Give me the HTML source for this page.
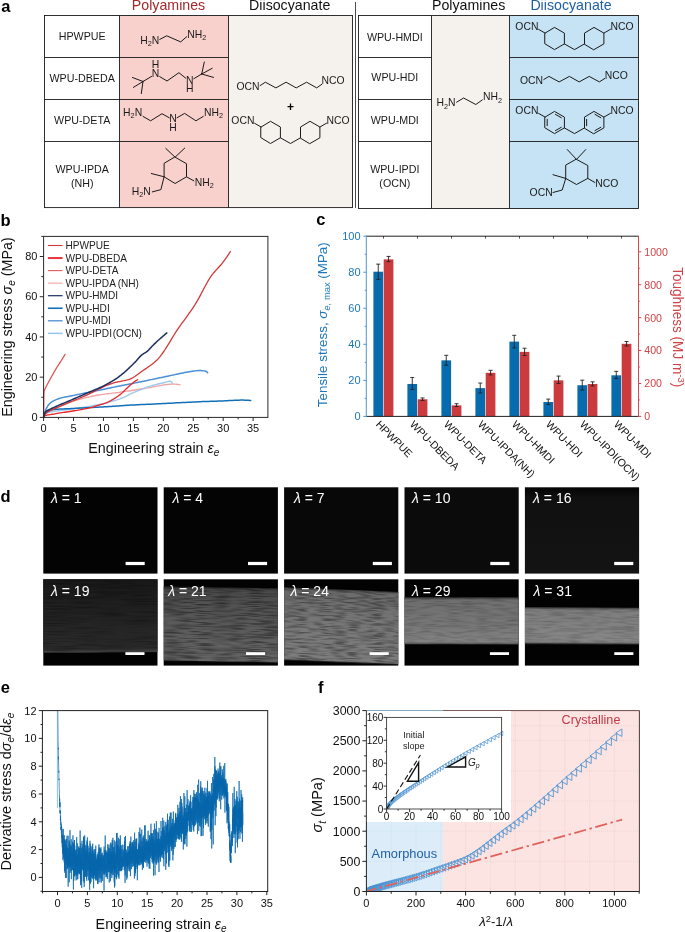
<!DOCTYPE html>
<html><head><meta charset="utf-8"><title>Figure</title>
<style>html,body{margin:0;padding:0;background:#fff}svg{display:block;will-change:transform}svg text{font-family:"Liberation Sans", sans-serif;}</style></head>
<body><svg width="685" height="932" viewBox="0 0 685 932" font-family='"Liberation Sans", sans-serif'>
<rect width="685" height="932" fill="#fff"/>
<g id="panel_a">
<rect x="119.5" y="15.5" width="109" height="192.1" fill="#f8d0cc" stroke="none" stroke-width="1" />
<rect x="228.5" y="15.5" width="124" height="192.1" fill="#f5f2ed" stroke="none" stroke-width="1" />
<rect x="431.5" y="15.5" width="78" height="193" fill="#f5f2ed" stroke="none" stroke-width="1" />
<rect x="509.5" y="15.5" width="129" height="193" fill="#c6e3f5" stroke="none" stroke-width="1" />
<rect x="44.5" y="15.5" width="308" height="192.1" fill="none" stroke="#1a1a1a" stroke-width="0.9" />
<line x1="119.5" y1="15.5" x2="119.5" y2="207.6" stroke="#1a1a1a" stroke-width="0.9" />
<line x1="228.5" y1="15.5" x2="228.5" y2="207.6" stroke="#1a1a1a" stroke-width="0.9" />
<line x1="44.5" y1="57.5" x2="228.5" y2="57.5" stroke="#1a1a1a" stroke-width="0.9" />
<line x1="44.5" y1="99.5" x2="228.5" y2="99.5" stroke="#1a1a1a" stroke-width="0.9" />
<line x1="44.5" y1="141.5" x2="228.5" y2="141.5" stroke="#1a1a1a" stroke-width="0.9" />
<line x1="355.5" y1="2" x2="355.5" y2="207.9" stroke="#1a1a1a" stroke-width="0.8" />
<rect x="358.5" y="15.5" width="280" height="193" fill="none" stroke="#1a1a1a" stroke-width="0.9" />
<line x1="431.5" y1="15.5" x2="431.5" y2="208.5" stroke="#1a1a1a" stroke-width="0.9" />
<line x1="509.5" y1="15.5" x2="509.5" y2="208.5" stroke="#1a1a1a" stroke-width="0.9" />
<line x1="358.5" y1="57.5" x2="431.5" y2="57.5" stroke="#1a1a1a" stroke-width="0.9" />
<line x1="509.5" y1="57.5" x2="638.5" y2="57.5" stroke="#1a1a1a" stroke-width="0.9" />
<line x1="358.5" y1="99.5" x2="431.5" y2="99.5" stroke="#1a1a1a" stroke-width="0.9" />
<line x1="509.5" y1="99.5" x2="638.5" y2="99.5" stroke="#1a1a1a" stroke-width="0.9" />
<line x1="358.5" y1="141.5" x2="431.5" y2="141.5" stroke="#1a1a1a" stroke-width="0.9" />
<line x1="509.5" y1="141.5" x2="638.5" y2="141.5" stroke="#1a1a1a" stroke-width="0.9" />
<text x="168.5" y="10.3" font-size="14.2" text-anchor="middle" fill="#a3282c" >Polyamines</text>
<text x="289.7" y="10.3" font-size="14.2" text-anchor="middle" fill="#111" >Diisocyanate</text>
<text x="468.7" y="10.3" font-size="14.2" text-anchor="middle" fill="#111" >Polyamines</text>
<text x="571" y="10.3" font-size="14.2" text-anchor="middle" fill="#1f5fa5" >Diisocyanate</text>
<text x="1.2" y="11.8" font-size="16.5" text-anchor="start" fill="#000" font-weight="bold">a</text>
<text x="82.2" y="40.4" font-size="10.7" text-anchor="middle" fill="#1a1a1a" >HPWPUE</text>
<text x="82.2" y="81.8" font-size="10.7" text-anchor="middle" fill="#1a1a1a" >WPU-DBEDA</text>
<text x="82.2" y="124" font-size="10.7" text-anchor="middle" fill="#1a1a1a" >WPU-DETA</text>
<text x="82.2" y="173.3" font-size="10.7" text-anchor="middle" fill="#1a1a1a" >WPU-IPDA</text>
<text x="82.2" y="186.8" font-size="10.7" text-anchor="middle" fill="#1a1a1a" >(NH)</text>
<text x="394.8" y="40.9" font-size="10.7" text-anchor="middle" fill="#1a1a1a" >WPU-HMDI</text>
<text x="394.8" y="81.2" font-size="10.7" text-anchor="middle" fill="#1a1a1a" >WPU-HDI</text>
<text x="394.8" y="124" font-size="10.7" text-anchor="middle" fill="#1a1a1a" >WPU-MDI</text>
<text x="394.8" y="173.1" font-size="10.7" text-anchor="middle" fill="#1a1a1a" >WPU-IPDI</text>
<text x="394.8" y="187" font-size="10.7" text-anchor="middle" fill="#1a1a1a" >(OCN)</text>
<text x="140.2" y="43.6" font-size="10.4" text-anchor="start" fill="#1a1a1a" ><tspan dy="0" font-size="10.4">H</tspan><tspan dy="2.29" font-size="7.28">2</tspan><tspan dy="-2.29" font-size="10.4">N</tspan></text>
<polyline points="159.8,39.4 166.7,35.8 180.7,41.9 186.8,36.6" fill="none" stroke="#1a1a1a" stroke-width="1" stroke-linejoin="round" stroke-linecap="round"/>
<text x="187.2" y="37.5" font-size="10.4" text-anchor="start" fill="#1a1a1a" ><tspan dy="0" font-size="10.4">NH</tspan><tspan dy="2.29" font-size="7.28">2</tspan></text>
<text x="155.5" y="67.8" font-size="10.4" text-anchor="middle" fill="#1a1a1a" >H</text>
<text x="155.5" y="76.8" font-size="10.4" text-anchor="middle" fill="#1a1a1a" >N</text>
<line x1="143" y1="81.5" x2="132.5" y2="77.5" stroke="#1a1a1a" stroke-width="1" stroke-linecap="round"/>
<line x1="143" y1="81.5" x2="133.4" y2="87.4" stroke="#1a1a1a" stroke-width="1" stroke-linecap="round"/>
<line x1="143" y1="81.5" x2="141.3" y2="93.6" stroke="#1a1a1a" stroke-width="1" stroke-linecap="round"/>
<line x1="143" y1="81.5" x2="151.6" y2="76.4" stroke="#1a1a1a" stroke-width="1" stroke-linecap="round"/>
<polyline points="159.7,76.6 167,81 178.9,72.7 185.8,78.2" fill="none" stroke="#1a1a1a" stroke-width="1" stroke-linejoin="round" stroke-linecap="round"/>
<text x="189.7" y="83.7" font-size="10.4" text-anchor="middle" fill="#1a1a1a" >N</text>
<text x="189.7" y="92.2" font-size="10.4" text-anchor="middle" fill="#1a1a1a" >H</text>
<line x1="201.7" y1="74" x2="204.3" y2="62" stroke="#1a1a1a" stroke-width="1" stroke-linecap="round"/>
<line x1="201.7" y1="74" x2="212.2" y2="68.3" stroke="#1a1a1a" stroke-width="1" stroke-linecap="round"/>
<line x1="201.7" y1="74" x2="213.5" y2="77.4" stroke="#1a1a1a" stroke-width="1" stroke-linecap="round"/>
<line x1="201.7" y1="74" x2="193.8" y2="78.7" stroke="#1a1a1a" stroke-width="1" stroke-linecap="round"/>
<text x="123.1" y="116" font-size="10.4" text-anchor="start" fill="#1a1a1a" ><tspan dy="0" font-size="10.4">H</tspan><tspan dy="2.29" font-size="7.28">2</tspan><tspan dy="-2.29" font-size="10.4">N</tspan></text>
<polyline points="143,116.4 150.6,120.8 162,113.7 169.3,117.8" fill="none" stroke="#1a1a1a" stroke-width="1" stroke-linejoin="round" stroke-linecap="round"/>
<text x="173" y="122.3" font-size="10.4" text-anchor="middle" fill="#1a1a1a" >N</text>
<text x="173" y="131" font-size="10.4" text-anchor="middle" fill="#1a1a1a" >H</text>
<polyline points="177,117.8 184.6,113.4 195.9,120.8 203.3,116.4" fill="none" stroke="#1a1a1a" stroke-width="1" stroke-linejoin="round" stroke-linecap="round"/>
<text x="204" y="116" font-size="10.4" text-anchor="start" fill="#1a1a1a" ><tspan dy="0" font-size="10.4">NH</tspan><tspan dy="2.29" font-size="7.28">2</tspan></text>
<polygon points="175.1,157.2 186.5,163.7 186.5,176.8 175.1,183.5 164.1,176.8 164.1,163.7" fill="none" stroke="#1a1a1a" stroke-width="1" stroke-linejoin="round" stroke-linecap="round"/>
<polyline points="165.8,148.4 175.1,157.2 184.7,148.1" fill="none" stroke="#1a1a1a" stroke-width="1" stroke-linejoin="round" stroke-linecap="round"/>
<polyline points="151.3,173.5 164.1,176.8" fill="none" stroke="#1a1a1a" stroke-width="1" stroke-linejoin="round" stroke-linecap="round"/>
<polyline points="164.1,176.8 160.9,189.6 152.3,191.9" fill="none" stroke="#1a1a1a" stroke-width="1" stroke-linejoin="round" stroke-linecap="round"/>
<text x="131.8" y="194.9" font-size="10.4" text-anchor="start" fill="#1a1a1a" ><tspan dy="0" font-size="10.4">H</tspan><tspan dy="2.29" font-size="7.28">2</tspan><tspan dy="-2.29" font-size="10.4">N</tspan></text>
<polyline points="186.5,176.8 193.8,180.8" fill="none" stroke="#1a1a1a" stroke-width="1" stroke-linejoin="round" stroke-linecap="round"/>
<text x="194.7" y="185.6" font-size="10.4" text-anchor="start" fill="#1a1a1a" ><tspan dy="0" font-size="10.4">NH</tspan><tspan dy="2.29" font-size="7.28">2</tspan></text>
<text x="236.4" y="89.8" font-size="10.4" text-anchor="start" fill="#1a1a1a" >OCN</text>
<polyline points="260.1,85.6 265.4,82.2 275.9,87.9 286.1,82.2 296.2,87.9 306.6,82.2 316.7,87.9 321.8,84.3" fill="none" stroke="#1a1a1a" stroke-width="1" stroke-linejoin="round" stroke-linecap="round"/>
<text x="321.4" y="84.3" font-size="10.4" text-anchor="start" fill="#1a1a1a" >NCO</text>
<text x="290.5" y="110.6" font-size="12" text-anchor="middle" fill="#000" font-weight="bold">+</text>
<text x="231.3" y="124.2" font-size="10.4" text-anchor="start" fill="#1a1a1a" >OCN</text>
<polyline points="254.6,123.3 261.1,127" fill="none" stroke="#1a1a1a" stroke-width="1" stroke-linejoin="round" stroke-linecap="round"/>
<polygon points="261.1,127 270.5,121.3 280.4,127 280.4,137.8 270.5,143.5 261.1,137.8" fill="none" stroke="#1a1a1a" stroke-width="1" stroke-linejoin="round" stroke-linecap="round"/>
<polygon points="300.5,137.8 300.5,127 310,121.3 319.9,127 319.9,137.8 310,143.5" fill="none" stroke="#1a1a1a" stroke-width="1" stroke-linejoin="round" stroke-linecap="round"/>
<polyline points="280.4,137.8 290.5,143.5 300.5,137.8" fill="none" stroke="#1a1a1a" stroke-width="1" stroke-linejoin="round" stroke-linecap="round"/>
<polyline points="319.9,127 326.5,123.2" fill="none" stroke="#1a1a1a" stroke-width="1" stroke-linejoin="round" stroke-linecap="round"/>
<text x="326.5" y="123.7" font-size="10.4" text-anchor="start" fill="#1a1a1a" >NCO</text>
<text x="515.3" y="30.3" font-size="10.4" text-anchor="start" fill="#1a1a1a" >OCN</text>
<polyline points="538.6,29.4 545.1,33.1" fill="none" stroke="#1a1a1a" stroke-width="1" stroke-linejoin="round" stroke-linecap="round"/>
<polygon points="545.1,33.1 554.5,27.4 564.4,33.1 564.4,43.9 554.5,49.6 545.1,43.9" fill="none" stroke="#1a1a1a" stroke-width="1" stroke-linejoin="round" stroke-linecap="round"/>
<polygon points="584.5,43.9 584.5,33.1 594,27.4 603.9,33.1 603.9,43.9 594,49.6" fill="none" stroke="#1a1a1a" stroke-width="1" stroke-linejoin="round" stroke-linecap="round"/>
<polyline points="564.4,43.9 574.5,49.6 584.5,43.9" fill="none" stroke="#1a1a1a" stroke-width="1" stroke-linejoin="round" stroke-linecap="round"/>
<polyline points="603.9,33.1 610.5,29.3" fill="none" stroke="#1a1a1a" stroke-width="1" stroke-linejoin="round" stroke-linecap="round"/>
<text x="610.5" y="29.8" font-size="10.4" text-anchor="start" fill="#1a1a1a" >NCO</text>
<text x="520" y="83.6" font-size="10.4" text-anchor="start" fill="#1a1a1a" >OCN</text>
<polyline points="543.8,79.5 548.9,76.4 559.2,81.9 569.4,76.4 579.2,81.9 589.2,76.4 599.4,81.9 604.7,78.5" fill="none" stroke="#1a1a1a" stroke-width="1" stroke-linejoin="round" stroke-linecap="round"/>
<text x="604.7" y="78.5" font-size="10.4" text-anchor="start" fill="#1a1a1a" >NCO</text>
<text x="515.3" y="114.3" font-size="10.4" text-anchor="start" fill="#1a1a1a" >OCN</text>
<polyline points="538.6,113.4 545.1,117.1" fill="none" stroke="#1a1a1a" stroke-width="1" stroke-linejoin="round" stroke-linecap="round"/>
<polygon points="545.1,117.1 554.5,111.4 564.4,117.1 564.4,127.9 554.5,133.6 545.1,127.9" fill="none" stroke="#1a1a1a" stroke-width="1" stroke-linejoin="round" stroke-linecap="round"/>
<polygon points="584.5,127.9 584.5,117.1 594,111.4 603.9,117.1 603.9,127.9 594,133.6" fill="none" stroke="#1a1a1a" stroke-width="1" stroke-linejoin="round" stroke-linecap="round"/>
<polyline points="564.4,127.9 574.5,133.6 584.5,127.9" fill="none" stroke="#1a1a1a" stroke-width="1" stroke-linejoin="round" stroke-linecap="round"/>
<polyline points="603.9,117.1 610.5,113.3" fill="none" stroke="#1a1a1a" stroke-width="1" stroke-linejoin="round" stroke-linecap="round"/>
<text x="610.5" y="113.8" font-size="10.4" text-anchor="start" fill="#1a1a1a" >NCO</text>
<polyline points="555.46,114.38 561.33,117.75" fill="none" stroke="#1a1a1a" stroke-width="1" stroke-linejoin="round" stroke-linecap="round"/>
<polyline points="561.33,127.25 555.46,130.62" fill="none" stroke="#1a1a1a" stroke-width="1" stroke-linejoin="round" stroke-linecap="round"/>
<polyline points="547.2,125.7 547.2,119.3" fill="none" stroke="#1a1a1a" stroke-width="1" stroke-linejoin="round" stroke-linecap="round"/>
<polyline points="586.62,125.7 586.62,119.3" fill="none" stroke="#1a1a1a" stroke-width="1" stroke-linejoin="round" stroke-linecap="round"/>
<polyline points="594.96,114.38 600.82,117.75" fill="none" stroke="#1a1a1a" stroke-width="1" stroke-linejoin="round" stroke-linecap="round"/>
<polyline points="600.82,127.25 594.96,130.62" fill="none" stroke="#1a1a1a" stroke-width="1" stroke-linejoin="round" stroke-linecap="round"/>
<polygon points="576.5,159.4 587.8,165.5 587.8,178.4 576.5,184.5 565.7,178.4 565.7,165.5" fill="none" stroke="#1a1a1a" stroke-width="1" stroke-linejoin="round" stroke-linecap="round"/>
<polyline points="567.3,149.6 576.5,159.4 585.7,149.6" fill="none" stroke="#1a1a1a" stroke-width="1" stroke-linejoin="round" stroke-linecap="round"/>
<polyline points="553,174.7 565.7,178.4" fill="none" stroke="#1a1a1a" stroke-width="1" stroke-linejoin="round" stroke-linecap="round"/>
<polyline points="565.7,178.4 562.2,190 553,192.5" fill="none" stroke="#1a1a1a" stroke-width="1" stroke-linejoin="round" stroke-linecap="round"/>
<text x="529.6" y="196.2" font-size="10.4" text-anchor="start" fill="#1a1a1a" >OCN</text>
<polyline points="587.8,178.4 594.9,182.5" fill="none" stroke="#1a1a1a" stroke-width="1" stroke-linejoin="round" stroke-linecap="round"/>
<text x="595.3" y="186.6" font-size="10.4" text-anchor="start" fill="#1a1a1a" >NCO</text>
<text x="436.5" y="106.4" font-size="10.4" text-anchor="start" fill="#1a1a1a" ><tspan dy="0" font-size="10.4">H</tspan><tspan dy="2.29" font-size="7.28">2</tspan><tspan dy="-2.29" font-size="10.4">N</tspan></text>
<polyline points="456.6,102.2 463.6,98 475.8,104.5 482.3,99.9" fill="none" stroke="#1a1a1a" stroke-width="1" stroke-linejoin="round" stroke-linecap="round"/>
<text x="483" y="100.3" font-size="10.4" text-anchor="start" fill="#1a1a1a" ><tspan dy="0" font-size="10.4">NH</tspan><tspan dy="2.29" font-size="7.28">2</tspan></text>
</g>
<g id="panel_b">
<text x="0.6" y="225.5" font-size="16.5" text-anchor="start" fill="#000" font-weight="bold">b</text>
<polyline points="43.6,417.4 43.63,416.96 43.71,416.53 43.83,416.11 43.98,415.7 44.16,415.29 44.36,414.9 44.59,414.52 44.83,414.15 45.08,413.8 45.34,413.45 45.62,413.12 45.96,412.81 46.36,412.52 46.81,412.24 47.31,411.96 47.84,411.67 48.41,411.38 49.01,411.07 49.63,410.74 50.31,410.38 51.08,410 51.91,409.6 52.82,409.19 53.78,408.77 54.79,408.34 55.84,407.9 56.92,407.45 58.03,407 59.15,406.56 60.28,406.11 61.41,405.67 62.54,405.24 63.64,404.82 64.77,404.39 65.93,403.96 67.11,403.52 68.32,403.08 69.55,402.64 70.79,402.2 72.05,401.76 73.32,401.33 74.59,400.9 75.87,400.49 77.15,400.08 78.42,399.69 79.69,399.31 80.95,398.96 82.2,398.62 83.43,398.29 84.64,397.98 85.85,397.67 87.05,397.37 88.25,397.08 89.46,396.8 90.68,396.52 91.92,396.25 93.17,395.99 94.45,395.73 95.76,395.49 97.11,395.24 98.5,395 99.94,394.77 101.42,394.55 102.95,394.34 104.51,394.14 106.1,393.94 107.72,393.74 109.36,393.54 111,393.35 112.66,393.16 114.31,392.96 115.96,392.77 117.61,392.56 119.23,392.35 120.83,392.14 122.41,391.92 123.99,391.69 125.55,391.46 127.12,391.22 128.68,390.99 130.23,390.75 131.79,390.51 133.35,390.26 134.91,390.01 136.47,389.76 138.04,389.51 139.61,389.26 141.19,389.01 142.78,388.75 144.37,388.5 146,388.23 147.71,387.94 149.48,387.61 151.3,387.27 153.14,386.92 155,386.56 156.86,386.2 158.7,385.86 160.49,385.52 162.23,385.21 163.9,384.93 165.48,384.69 166.95,384.49 168.3,384.34 169.51,384.24 170.56,384.21 171.46,384.21 172.26,384.21 172.98,384.21 173.66,384.21 174.34,384.21 175.03,384.21 175.76,384.22 176.49,384.26 177.21,384.34 177.94,384.43 178.65,384.55 179.37,384.68 180.08,384.82" fill="none" stroke="#f2a3a3" stroke-width="1.3" stroke-linejoin="round" stroke-linecap="round"/>
<polyline points="43.6,417.4 43.63,416.9 43.72,416.43 43.87,415.97 44.06,415.54 44.29,415.13 44.54,414.74 44.83,414.38 45.13,414.05 45.44,413.74 45.83,413.46 46.32,413.2 46.9,412.96 47.57,412.74 48.3,412.52 49.08,412.3 49.91,412.09 50.86,411.89 51.95,411.69 53.16,411.5 54.47,411.32 55.86,411.14 57.31,410.95 58.8,410.77 60.31,410.57 61.83,410.37 63.33,410.16 64.86,409.94 66.47,409.71 68.14,409.48 69.87,409.24 71.63,408.99 73.43,408.74 75.24,408.48 77.06,408.22 78.87,407.96 80.66,407.7 82.43,407.43 84.15,407.16 85.82,406.89 87.43,406.62 89.02,406.34 90.59,406.07 92.16,405.79 93.7,405.51 95.23,405.22 96.75,404.93 98.23,404.64 99.7,404.34 101.14,404.04 102.56,403.74 103.95,403.42 105.3,403.11 106.63,402.79 107.93,402.47 109.2,402.15 110.46,401.82 111.69,401.48 112.9,401.14 114.1,400.79 115.28,400.44 116.45,400.07 117.61,399.69 118.76,399.29 119.9,398.89 121.01,398.45 122.1,398 123.16,397.53 124.21,397.04 125.24,396.54 126.27,396.03 127.31,395.52 128.35,395 129.41,394.48 130.49,393.96 131.6,393.45 132.74,392.94 133.91,392.44 135.14,391.93 136.4,391.4 137.7,390.87 139.02,390.32 140.37,389.78 141.73,389.24 143.09,388.7 144.46,388.18 145.82,387.68 147.16,387.19 148.48,386.73 149.77,386.29 151.03,385.89 152.25,385.53 153.46,385.2 154.66,384.88 155.85,384.57 157.02,384.29 158.18,384.01 159.31,383.75 160.41,383.49 161.48,383.25 162.51,383 163.49,382.76 164.48,382.5 165.48,382.22 166.46,381.94 167.39,381.69 168.25,381.46 169.02,381.3 169.65,381.21 170.16,381.22 170.61,381.35 171.01,381.56 171.35,381.83 171.61,382.09 171.79,382.32 171.95,382.56 172.09,382.8 172.2,383.06 172.27,383.33 172.3,383.61" fill="none" stroke="#9ccbee" stroke-width="1.4" stroke-linejoin="round" stroke-linecap="round"/>
<polyline points="43.6,417.4 43.68,416.76 43.79,416.12 43.92,415.48 44.08,414.83 44.25,414.19 44.44,413.54 44.65,412.89 44.87,412.24 45.09,411.59 45.33,410.94 45.58,410.28 45.85,409.61 46.16,408.93 46.49,408.24 46.84,407.55 47.23,406.87 47.65,406.2 48.1,405.54 48.58,404.89 49.09,404.27 49.63,403.68 50.24,403.1 50.96,402.53 51.75,401.96 52.63,401.41 53.58,400.88 54.59,400.36 55.65,399.86 56.77,399.38 57.92,398.93 59.11,398.51 60.42,398.11 61.86,397.74 63.4,397.39 65.03,397.05 66.73,396.72 68.47,396.39 70.25,396.06 72.04,395.73 73.83,395.38 75.6,395.02 77.39,394.64 79.22,394.27 81.09,393.88 82.99,393.5 84.92,393.11 86.87,392.72 88.83,392.32 90.79,391.93 92.76,391.53 94.72,391.13 96.66,390.74 98.59,390.34 100.52,389.95 102.45,389.55 104.38,389.15 106.31,388.74 108.24,388.34 110.18,387.94 112.11,387.53 114.05,387.13 115.99,386.73 117.93,386.33 119.87,385.94 121.81,385.54 123.74,385.15 125.68,384.77 127.61,384.39 129.54,384.01 131.48,383.63 133.41,383.25 135.35,382.87 137.3,382.49 139.25,382.1 141.21,381.71 143.18,381.32 145.16,380.91 147.17,380.5 149.22,380.07 151.3,379.64 153.39,379.19 155.49,378.75 157.59,378.3 159.68,377.85 161.74,377.41 163.77,376.98 165.76,376.56 167.7,376.15 169.57,375.76 171.38,375.38 173.15,375.01 174.87,374.63 176.55,374.26 178.2,373.9 179.83,373.55 181.43,373.22 183.01,372.9 184.58,372.6 186.15,372.33 187.71,372.08 189.29,371.82 190.89,371.56 192.48,371.31 194.05,371.07 195.57,370.87 197.02,370.7 198.38,370.59 199.63,370.54 200.79,370.56 201.93,370.63 202.99,370.74 203.95,370.88 204.77,371.03 205.43,371.2 206.01,371.41 206.54,371.69 207,372.01 207.37,372.36 207.62,372.75" fill="none" stroke="#4a8fd6" stroke-width="1.5" stroke-linejoin="round" stroke-linecap="round"/>
<polyline points="43.6,417.4 43.63,416.85 43.69,416.31 43.77,415.8 43.87,415.31 43.99,414.85 44.12,414.41 44.26,413.99 44.41,413.59 44.56,413.22 44.74,412.88 44.95,412.56 45.19,412.26 45.49,411.97 45.83,411.69 46.26,411.4 46.91,411.11 47.76,410.82 48.77,410.53 49.9,410.26 51.13,410.01 52.41,409.79 53.72,409.6 55.06,409.45 56.54,409.32 58.14,409.2 59.86,409.09 61.67,408.99 63.57,408.9 65.53,408.81 67.54,408.72 69.59,408.63 71.67,408.53 73.75,408.43 75.82,408.32 77.98,408.21 80.24,408.09 82.59,407.97 85.02,407.85 87.49,407.73 90.01,407.6 92.53,407.48 95.06,407.35 97.57,407.23 100.03,407.1 102.45,406.97 104.78,406.85 107.03,406.72 109.16,406.59 111.18,406.47 113.08,406.34 114.91,406.21 116.67,406.08 118.39,405.94 120.08,405.81 121.76,405.68 123.45,405.55 125.16,405.43 126.93,405.31 128.76,405.19 130.66,405.08 132.6,404.98 134.55,404.88 136.53,404.79 138.53,404.7 140.56,404.62 142.61,404.53 144.7,404.44 146.83,404.36 148.98,404.27 151.18,404.17 153.42,404.08 155.69,403.97 158.03,403.86 160.47,403.74 163.02,403.61 165.66,403.47 168.36,403.33 171.12,403.18 173.92,403.02 176.73,402.87 179.55,402.72 182.36,402.56 185.14,402.42 187.87,402.27 190.55,402.14 193.14,402.01 195.64,401.89 198.03,401.79 200.3,401.69 202.47,401.61 204.59,401.53 206.64,401.46 208.65,401.4 210.61,401.33 212.53,401.27 214.42,401.21 216.28,401.15 218.12,401.09 219.95,401.03 221.77,400.96 223.58,400.89 225.4,400.81 227.22,400.72 229.03,400.62 230.83,400.51 232.59,400.42 234.32,400.32 236,400.24 237.63,400.17 239.2,400.13 240.69,400.1 242.11,400.11 243.48,400.12 244.81,400.15 246.09,400.19 247.32,400.25 248.51,400.32 249.64,400.41 250.72,400.51" fill="none" stroke="#1270b8" stroke-width="1.5" stroke-linejoin="round" stroke-linecap="round"/>
<polyline points="43.6,417.4 43.6,416.61 43.6,415.83 43.6,415.06 43.61,414.29 43.61,413.53 43.61,412.78 43.62,412.04 43.62,411.31 43.63,410.59 43.63,409.87 43.64,409.16 43.64,408.46 43.65,407.77 43.65,407.09 43.66,406.42 43.67,405.75 43.67,405.1 43.68,404.45 43.69,403.81 43.7,403.18 43.7,402.56 43.71,401.95 43.72,401.35 43.73,400.75 43.73,400.15 43.74,399.56 43.75,398.98 43.76,398.4 43.77,397.83 43.78,397.26 43.79,396.71 43.8,396.16 43.81,395.62 43.83,395.1 43.84,394.59 43.86,394.1 43.88,393.62 43.9,393.16 43.92,392.71 43.95,392.28 43.97,391.88 44.03,391.5 44.1,391.15 44.2,390.82 44.32,390.5 44.45,390.19 44.6,389.88 44.76,389.57 44.92,389.25 45.09,388.91 45.26,388.55 45.42,388.17 45.6,387.76 45.8,387.34 46,386.9 46.23,386.45 46.46,385.98 46.71,385.5 46.97,385.02 47.23,384.52 47.5,384.01 47.78,383.5 48.06,382.98 48.35,382.46 48.64,381.93 48.93,381.4 49.22,380.86 49.51,380.33 49.8,379.79 50.1,379.24 50.41,378.68 50.72,378.1 51.04,377.51 51.37,376.91 51.7,376.31 52.04,375.7 52.38,375.09 52.73,374.48 53.07,373.86 53.42,373.25 53.77,372.64 54.12,372.03 54.46,371.43 54.81,370.83 55.15,370.25 55.49,369.67 55.82,369.11 56.15,368.56 56.47,368.03 56.8,367.49 57.13,366.96 57.46,366.44 57.79,365.92 58.13,365.4 58.46,364.89 58.78,364.38 59.11,363.88 59.43,363.38 59.75,362.89 60.07,362.4 60.38,361.92 60.69,361.45 60.99,360.98 61.28,360.52 61.57,360.06 61.85,359.61 62.13,359.17 62.4,358.73 62.67,358.3 62.93,357.87 63.2,357.44 63.46,357.02 63.71,356.61 63.96,356.2 64.21,355.8 64.45,355.4 64.69,355.01 64.92,354.63 65.15,354.25" fill="none" stroke="#e25555" stroke-width="1.3" stroke-linejoin="round" stroke-linecap="round"/>
<polyline points="43.6,417.4 43.64,417.14 43.74,416.88 43.9,416.63 44.11,416.38 44.35,416.15 44.62,415.92 44.93,415.71 45.41,415.51 46.09,415.32 46.92,415.14 47.89,414.96 48.96,414.79 50.1,414.62 51.28,414.44 52.48,414.25 53.66,414.06 54.82,413.85 56.08,413.63 57.42,413.41 58.83,413.19 60.31,412.95 61.83,412.72 63.39,412.48 64.97,412.24 66.56,411.99 68.15,411.75 69.72,411.5 71.26,411.25 72.76,411.01 74.2,410.76 75.58,410.52 76.93,410.27 78.28,410.03 79.63,409.78 80.97,409.53 82.29,409.28 83.59,409.03 84.87,408.78 86.12,408.53 87.34,408.28 88.52,408.03 89.65,407.78 90.74,407.52 91.78,407.27 92.77,407.02 93.73,406.76 94.66,406.5 95.56,406.24 96.44,405.98 97.28,405.73 98.11,405.47 98.92,405.22 99.71,404.97 100.48,404.72 101.24,404.49 101.97,404.26 102.69,404.04 103.38,403.81 104.06,403.59 104.73,403.37 105.39,403.13 106.04,402.88 106.69,402.62 107.32,402.35 107.95,402.07 108.56,401.78 109.17,401.48 109.77,401.17 110.37,400.85 110.97,400.53 111.57,400.19 112.18,399.85 112.8,399.49 113.43,399.12 114.06,398.74 114.69,398.35 115.33,397.94 115.97,397.53 116.61,397.1 117.24,396.67 117.87,396.23 118.49,395.78 119.11,395.32 119.72,394.86 120.32,394.39 120.91,393.91 121.5,393.41 122.09,392.88 122.67,392.35 123.25,391.8 123.82,391.25 124.39,390.69 124.96,390.13 125.52,389.57 126.07,389.02 126.63,388.48 127.17,387.95 127.71,387.43 128.25,386.94 128.78,386.47 129.31,386 129.84,385.53 130.36,385.06 130.88,384.6 131.4,384.15 131.91,383.71 132.41,383.28 132.9,382.88 133.38,382.49 133.85,382.13 134.31,381.79 134.76,381.48 135.19,381.19 135.62,380.91 136.03,380.65 136.43,380.41 136.82,380.18 137.21,379.98 137.58,379.79" fill="none" stroke="#e8262a" stroke-width="1.3" stroke-linejoin="round" stroke-linecap="round"/>
<polyline points="43.6,417.4 43.74,416.64 43.98,415.91 44.3,415.22 44.68,414.57 45.1,413.99 45.66,413.47 46.37,412.95 47.25,412.33 48.51,411.56 50.24,410.68 52.34,409.7 54.7,408.66 57.22,407.57 59.79,406.48 62.31,405.39 64.73,404.33 67.26,403.25 69.9,402.14 72.61,401.02 75.37,399.89 78.14,398.74 80.89,397.59 83.59,396.44 86.21,395.3 88.75,394.12 91.31,392.87 93.86,391.58 96.39,390.29 98.87,389.02 101.29,387.81 103.62,386.7 105.86,385.72 107.98,384.9 109.96,384.19 111.83,383.55 113.64,382.98 115.41,382.47 117.18,382.01 118.98,381.62 120.77,381.29 122.52,380.98 124.17,380.65 125.69,380.31 127.09,379.98 128.49,379.6 129.97,379.13 131.54,378.43 133.17,377.52 134.84,376.43 136.54,375.23 138.26,373.96 139.98,372.67 141.68,371.42 143.38,370.25 145.09,369.1 146.82,367.95 148.55,366.78 150.28,365.58 152,364.32 153.69,362.99 155.36,361.57 156.98,360.04 158.57,358.33 160.15,356.45 161.7,354.42 163.24,352.25 164.77,349.99 166.28,347.63 167.78,345.23 169.27,342.79 170.74,340.34 172.21,337.9 173.68,335.51 175.13,333.18 176.58,330.94 178.03,328.8 179.48,326.74 180.92,324.72 182.35,322.73 183.77,320.76 185.19,318.81 186.6,316.87 187.99,314.93 189.38,312.99 190.75,311.03 192.11,309.05 193.45,307.04 194.77,304.99 196.08,302.88 197.38,300.69 198.66,298.42 199.93,296.1 201.18,293.75 202.42,291.39 203.66,289.05 204.89,286.73 206.11,284.48 207.33,282.29 208.54,280.2 209.75,278.23 210.96,276.4 212.17,274.72 213.38,273.18 214.61,271.74 215.83,270.39 217.04,269.09 218.24,267.82 219.41,266.56 220.55,265.28 221.65,263.96 222.71,262.59 223.75,261.21 224.77,259.83 225.76,258.45 226.73,257.06 227.68,255.67 228.6,254.27 229.49,252.87 230.36,251.47" fill="none" stroke="#d43838" stroke-width="1.3" stroke-linejoin="round" stroke-linecap="round"/>
<polyline points="43.6,417.4 43.73,416.73 43.88,416.09 44.04,415.48 44.21,414.9 44.4,414.36 44.59,413.85 44.79,413.38 45,412.97 45.2,412.6 45.44,412.25 45.73,411.88 46.09,411.46 46.67,411 47.48,410.5 48.46,409.97 49.59,409.43 50.8,408.86 52.07,408.28 53.35,407.69 54.61,407.09 55.96,406.47 57.41,405.82 58.95,405.16 60.56,404.48 62.21,403.79 63.9,403.09 65.59,402.39 67.26,401.69 68.91,401 70.51,400.32 72.07,399.64 73.63,398.96 75.19,398.29 76.74,397.61 78.3,396.93 79.85,396.26 81.4,395.58 82.95,394.9 84.5,394.22 86.05,393.55 87.61,392.87 89.18,392.2 90.77,391.54 92.36,390.87 93.95,390.21 95.54,389.54 97.11,388.87 98.66,388.19 100.18,387.51 101.67,386.81 103.12,386.09 104.54,385.38 105.94,384.66 107.31,383.94 108.66,383.21 110,382.47 111.32,381.72 112.63,380.95 113.92,380.16 115.2,379.34 116.47,378.5 117.73,377.62 119,376.7 120.28,375.72 121.56,374.69 122.83,373.64 124.1,372.56 125.35,371.46 126.58,370.35 127.78,369.25 128.96,368.16 130.1,367.08 131.19,366.03 132.24,365.01 133.24,364.04 134.19,363.09 135.11,362.13 135.99,361.16 136.83,360.2 137.66,359.25 138.46,358.33 139.24,357.45 140.01,356.62 140.77,355.84 141.52,355.14 142.26,354.53 143,354 143.7,353.57 144.38,353.18 145.05,352.8 145.74,352.39 146.45,351.91 147.19,351.33 147.93,350.67 148.69,349.93 149.46,349.14 150.24,348.32 151.03,347.46 151.81,346.6 152.61,345.75 153.4,344.92 154.2,344.13 155,343.36 155.82,342.59 156.66,341.82 157.5,341.05 158.35,340.28 159.18,339.53 160.01,338.8 160.81,338.1 161.58,337.42 162.31,336.78 163.02,336.17 163.72,335.58 164.39,335 165.05,334.45 165.69,333.92 166.31,333.41 166.91,332.93" fill="none" stroke="#1f2f5f" stroke-width="1.5" stroke-linejoin="round" stroke-linecap="round"/>
<rect x="43.6" y="236.4" width="224.3" height="181" fill="none" stroke="#2a2a2a" stroke-width="1" />
<line x1="43.6" y1="417.4" x2="43.6" y2="421" stroke="#2a2a2a" stroke-width="1" />
<text x="43.6" y="432" font-size="11" text-anchor="middle" fill="#111" >0</text>
<line x1="73.53" y1="417.4" x2="73.53" y2="421" stroke="#2a2a2a" stroke-width="1" />
<text x="73.53" y="432" font-size="11" text-anchor="middle" fill="#111" >5</text>
<line x1="103.46" y1="417.4" x2="103.46" y2="421" stroke="#2a2a2a" stroke-width="1" />
<text x="103.46" y="432" font-size="11" text-anchor="middle" fill="#111" >10</text>
<line x1="133.39" y1="417.4" x2="133.39" y2="421" stroke="#2a2a2a" stroke-width="1" />
<text x="133.39" y="432" font-size="11" text-anchor="middle" fill="#111" >15</text>
<line x1="163.32" y1="417.4" x2="163.32" y2="421" stroke="#2a2a2a" stroke-width="1" />
<text x="163.32" y="432" font-size="11" text-anchor="middle" fill="#111" >20</text>
<line x1="193.25" y1="417.4" x2="193.25" y2="421" stroke="#2a2a2a" stroke-width="1" />
<text x="193.25" y="432" font-size="11" text-anchor="middle" fill="#111" >25</text>
<line x1="223.18" y1="417.4" x2="223.18" y2="421" stroke="#2a2a2a" stroke-width="1" />
<text x="223.18" y="432" font-size="11" text-anchor="middle" fill="#111" >30</text>
<line x1="253.11" y1="417.4" x2="253.11" y2="421" stroke="#2a2a2a" stroke-width="1" />
<text x="253.11" y="432" font-size="11" text-anchor="middle" fill="#111" >35</text>
<line x1="58.56" y1="417.4" x2="58.56" y2="419.4" stroke="#2a2a2a" stroke-width="1" />
<line x1="88.5" y1="417.4" x2="88.5" y2="419.4" stroke="#2a2a2a" stroke-width="1" />
<line x1="118.43" y1="417.4" x2="118.43" y2="419.4" stroke="#2a2a2a" stroke-width="1" />
<line x1="148.35" y1="417.4" x2="148.35" y2="419.4" stroke="#2a2a2a" stroke-width="1" />
<line x1="178.28" y1="417.4" x2="178.28" y2="419.4" stroke="#2a2a2a" stroke-width="1" />
<line x1="208.21" y1="417.4" x2="208.21" y2="419.4" stroke="#2a2a2a" stroke-width="1" />
<line x1="238.14" y1="417.4" x2="238.14" y2="419.4" stroke="#2a2a2a" stroke-width="1" />
<line x1="43.6" y1="417.4" x2="39.8" y2="417.4" stroke="#2a2a2a" stroke-width="1" />
<text x="37.5" y="421" font-size="11" text-anchor="end" fill="#111" >0</text>
<line x1="43.6" y1="377.17" x2="39.8" y2="377.17" stroke="#2a2a2a" stroke-width="1" />
<text x="37.5" y="380.77" font-size="11" text-anchor="end" fill="#111" >20</text>
<line x1="43.6" y1="336.95" x2="39.8" y2="336.95" stroke="#2a2a2a" stroke-width="1" />
<text x="37.5" y="340.55" font-size="11" text-anchor="end" fill="#111" >40</text>
<line x1="43.6" y1="296.72" x2="39.8" y2="296.72" stroke="#2a2a2a" stroke-width="1" />
<text x="37.5" y="300.32" font-size="11" text-anchor="end" fill="#111" >60</text>
<line x1="43.6" y1="256.5" x2="39.8" y2="256.5" stroke="#2a2a2a" stroke-width="1" />
<text x="37.5" y="260.1" font-size="11" text-anchor="end" fill="#111" >80</text>
<line x1="43.6" y1="397.29" x2="41.3" y2="397.29" stroke="#2a2a2a" stroke-width="1" />
<line x1="43.6" y1="357.06" x2="41.3" y2="357.06" stroke="#2a2a2a" stroke-width="1" />
<line x1="43.6" y1="316.83" x2="41.3" y2="316.83" stroke="#2a2a2a" stroke-width="1" />
<line x1="43.6" y1="276.61" x2="41.3" y2="276.61" stroke="#2a2a2a" stroke-width="1" />
<line x1="43.6" y1="236.38" x2="41.3" y2="236.38" stroke="#2a2a2a" stroke-width="1" />
<text x="88.3" y="453.3" font-size="14.3" text-anchor="start" fill="#111" ><tspan dy="0" font-size="14.3">Engineering strain </tspan><tspan dy="0" font-size="14.3" font-style="italic">ε</tspan><tspan dy="3.15" font-size="10.01" font-style="italic">e</tspan></text>
<text x="0" y="0" font-size="14.3" text-anchor="start" fill="#111" transform="translate(11.8,416.8) rotate(-90)"><tspan dy="0" font-size="14.3">Engineering stress </tspan><tspan dy="0" font-size="14.3" font-style="italic">σ</tspan><tspan dy="3.15" font-size="10.01" font-style="italic">e</tspan><tspan dy="-3.15" font-size="14.3"> (MPa)</tspan></text>
<line x1="47.9" y1="245.5" x2="62.6" y2="245.5" stroke="#d43838" stroke-width="1.1" />
<text x="65.4" y="249.1" font-size="10.1" text-anchor="start" fill="#222" >HPWPUE</text>
<line x1="47.9" y1="258.05" x2="62.6" y2="258.05" stroke="#e8343a" stroke-width="2" />
<text x="65.4" y="261.65" font-size="10.1" text-anchor="start" fill="#222" >WPU-DBEDA</text>
<line x1="47.9" y1="270.6" x2="62.6" y2="270.6" stroke="#e65a5a" stroke-width="1.1" />
<text x="65.4" y="274.2" font-size="10.1" text-anchor="start" fill="#222" >WPU-DETA</text>
<line x1="47.9" y1="283.15" x2="62.6" y2="283.15" stroke="#f2a3a3" stroke-width="1.1" />
<text x="65.4" y="286.75" font-size="10.1" text-anchor="start" fill="#222" >WPU-IPDA<tspan dx="1.8">(NH)</tspan></text>
<line x1="47.9" y1="295.7" x2="62.6" y2="295.7" stroke="#1f2f5f" stroke-width="1.2" />
<text x="65.4" y="299.3" font-size="10.1" text-anchor="start" fill="#222" >WPU-HMDI</text>
<line x1="47.9" y1="308.25" x2="62.6" y2="308.25" stroke="#1270b8" stroke-width="1.6" />
<text x="65.4" y="311.85" font-size="10.1" text-anchor="start" fill="#222" >WPU-HDI</text>
<line x1="47.9" y1="320.8" x2="62.6" y2="320.8" stroke="#4a8fd6" stroke-width="1.3" />
<text x="65.4" y="324.4" font-size="10.1" text-anchor="start" fill="#222" >WPU-MDI</text>
<line x1="47.9" y1="333.35" x2="62.6" y2="333.35" stroke="#94c5ea" stroke-width="1.5" />
<text x="65.4" y="336.95" font-size="10.1" text-anchor="start" fill="#222" >WPU-IPDI<tspan dx="0.8">(OCN)</tspan></text>
</g>
<g id="panel_c">
<text x="316.3" y="224.6" font-size="16.5" text-anchor="start" fill="#000" font-weight="bold">c</text>
<rect x="373.4" y="271.7" width="9.7" height="144.7" fill="#076cae" stroke="none" stroke-width="1" />
<rect x="383.7" y="259.37" width="9.7" height="157.03" fill="#cb3b3e" stroke="none" stroke-width="1" />
<line x1="378.25" y1="279.45" x2="378.25" y2="264.13" stroke="#222" stroke-width="0.9" />
<line x1="376.25" y1="279.45" x2="380.25" y2="279.45" stroke="#222" stroke-width="0.9" />
<line x1="376.25" y1="264.13" x2="380.25" y2="264.13" stroke="#222" stroke-width="0.9" />
<line x1="388.55" y1="261.68" x2="388.55" y2="256.41" stroke="#222" stroke-width="0.9" />
<line x1="386.55" y1="261.68" x2="390.55" y2="261.68" stroke="#222" stroke-width="0.9" />
<line x1="386.55" y1="256.41" x2="390.55" y2="256.41" stroke="#222" stroke-width="0.9" />
<line x1="383.5" y1="236.2" x2="383.5" y2="238.6" stroke="#333" stroke-width="0.9" />
<text x="0" y="0" font-size="10.6" text-anchor="start" fill="#111" transform="translate(375.2,425.1) rotate(45)">HPWPUE</text>
<rect x="407.4" y="383.96" width="9.7" height="32.44" fill="#076cae" stroke="none" stroke-width="1" />
<rect x="417.7" y="399.28" width="9.7" height="17.12" fill="#cb3b3e" stroke="none" stroke-width="1" />
<line x1="412.25" y1="389.55" x2="412.25" y2="377.48" stroke="#222" stroke-width="0.9" />
<line x1="410.25" y1="389.55" x2="414.25" y2="389.55" stroke="#222" stroke-width="0.9" />
<line x1="410.25" y1="377.48" x2="414.25" y2="377.48" stroke="#222" stroke-width="0.9" />
<line x1="422.55" y1="400.43" x2="422.55" y2="397.96" stroke="#222" stroke-width="0.9" />
<line x1="420.55" y1="400.43" x2="424.55" y2="400.43" stroke="#222" stroke-width="0.9" />
<line x1="420.55" y1="397.96" x2="424.55" y2="397.96" stroke="#222" stroke-width="0.9" />
<line x1="417.5" y1="236.2" x2="417.5" y2="238.6" stroke="#333" stroke-width="0.9" />
<text x="0" y="0" font-size="10.6" text-anchor="start" fill="#111" transform="translate(409.2,425.1) rotate(45)">WPU-DBEDA</text>
<rect x="441.4" y="360.36" width="9.7" height="56.04" fill="#076cae" stroke="none" stroke-width="1" />
<rect x="451.7" y="405.37" width="9.7" height="11.03" fill="#cb3b3e" stroke="none" stroke-width="1" />
<line x1="446.25" y1="365.22" x2="446.25" y2="355.31" stroke="#222" stroke-width="0.9" />
<line x1="444.25" y1="365.22" x2="448.25" y2="365.22" stroke="#222" stroke-width="0.9" />
<line x1="444.25" y1="355.31" x2="448.25" y2="355.31" stroke="#222" stroke-width="0.9" />
<line x1="456.55" y1="406.52" x2="456.55" y2="403.73" stroke="#222" stroke-width="0.9" />
<line x1="454.55" y1="406.52" x2="458.55" y2="406.52" stroke="#222" stroke-width="0.9" />
<line x1="454.55" y1="403.73" x2="458.55" y2="403.73" stroke="#222" stroke-width="0.9" />
<line x1="451.5" y1="236.2" x2="451.5" y2="238.6" stroke="#333" stroke-width="0.9" />
<text x="0" y="0" font-size="10.6" text-anchor="start" fill="#111" transform="translate(443.2,425.1) rotate(45)">WPU-DETA</text>
<rect x="475.4" y="388.11" width="9.7" height="28.29" fill="#076cae" stroke="none" stroke-width="1" />
<rect x="485.7" y="372.78" width="9.7" height="43.62" fill="#cb3b3e" stroke="none" stroke-width="1" />
<line x1="480.25" y1="392.97" x2="480.25" y2="383.06" stroke="#222" stroke-width="0.9" />
<line x1="478.25" y1="392.97" x2="482.25" y2="392.97" stroke="#222" stroke-width="0.9" />
<line x1="478.25" y1="383.06" x2="482.25" y2="383.06" stroke="#222" stroke-width="0.9" />
<line x1="490.55" y1="374.92" x2="490.55" y2="370.31" stroke="#222" stroke-width="0.9" />
<line x1="488.55" y1="374.92" x2="492.55" y2="374.92" stroke="#222" stroke-width="0.9" />
<line x1="488.55" y1="370.31" x2="492.55" y2="370.31" stroke="#222" stroke-width="0.9" />
<line x1="485.5" y1="236.2" x2="485.5" y2="238.6" stroke="#333" stroke-width="0.9" />
<text x="0" y="0" font-size="10.6" text-anchor="start" fill="#111" transform="translate(477.2,425.1) rotate(45)">WPU-IPDA(NH)</text>
<rect x="509.4" y="341.62" width="9.7" height="74.78" fill="#076cae" stroke="none" stroke-width="1" />
<rect x="519.7" y="351.88" width="9.7" height="64.52" fill="#cb3b3e" stroke="none" stroke-width="1" />
<line x1="514.25" y1="347.92" x2="514.25" y2="335.31" stroke="#222" stroke-width="0.9" />
<line x1="512.25" y1="347.92" x2="516.25" y2="347.92" stroke="#222" stroke-width="0.9" />
<line x1="512.25" y1="335.31" x2="516.25" y2="335.31" stroke="#222" stroke-width="0.9" />
<line x1="524.55" y1="355.5" x2="524.55" y2="348.26" stroke="#222" stroke-width="0.9" />
<line x1="522.55" y1="355.5" x2="526.55" y2="355.5" stroke="#222" stroke-width="0.9" />
<line x1="522.55" y1="348.26" x2="526.55" y2="348.26" stroke="#222" stroke-width="0.9" />
<line x1="519.5" y1="236.2" x2="519.5" y2="238.6" stroke="#333" stroke-width="0.9" />
<text x="0" y="0" font-size="10.6" text-anchor="start" fill="#111" transform="translate(511.2,425.1) rotate(45)">WPU-HMDI</text>
<rect x="543.4" y="401.98" width="9.7" height="14.42" fill="#076cae" stroke="none" stroke-width="1" />
<rect x="553.7" y="380.35" width="9.7" height="36.05" fill="#cb3b3e" stroke="none" stroke-width="1" />
<line x1="548.25" y1="404.51" x2="548.25" y2="399.1" stroke="#222" stroke-width="0.9" />
<line x1="546.25" y1="404.51" x2="550.25" y2="404.51" stroke="#222" stroke-width="0.9" />
<line x1="546.25" y1="399.1" x2="550.25" y2="399.1" stroke="#222" stroke-width="0.9" />
<line x1="558.55" y1="383.48" x2="558.55" y2="376.07" stroke="#222" stroke-width="0.9" />
<line x1="556.55" y1="383.48" x2="560.55" y2="383.48" stroke="#222" stroke-width="0.9" />
<line x1="556.55" y1="376.07" x2="560.55" y2="376.07" stroke="#222" stroke-width="0.9" />
<line x1="553.5" y1="236.2" x2="553.5" y2="238.6" stroke="#333" stroke-width="0.9" />
<text x="0" y="0" font-size="10.6" text-anchor="start" fill="#111" transform="translate(545.2,425.1) rotate(45)">WPU-HDI</text>
<rect x="577.4" y="385.23" width="9.7" height="31.17" fill="#076cae" stroke="none" stroke-width="1" />
<rect x="587.7" y="383.97" width="9.7" height="32.43" fill="#cb3b3e" stroke="none" stroke-width="1" />
<line x1="582.25" y1="390.09" x2="582.25" y2="380.18" stroke="#222" stroke-width="0.9" />
<line x1="580.25" y1="390.09" x2="584.25" y2="390.09" stroke="#222" stroke-width="0.9" />
<line x1="580.25" y1="380.18" x2="584.25" y2="380.18" stroke="#222" stroke-width="0.9" />
<line x1="592.55" y1="385.95" x2="592.55" y2="381.83" stroke="#222" stroke-width="0.9" />
<line x1="590.55" y1="385.95" x2="594.55" y2="385.95" stroke="#222" stroke-width="0.9" />
<line x1="590.55" y1="381.83" x2="594.55" y2="381.83" stroke="#222" stroke-width="0.9" />
<line x1="587.5" y1="236.2" x2="587.5" y2="238.6" stroke="#333" stroke-width="0.9" />
<text x="0" y="0" font-size="10.6" text-anchor="start" fill="#111" transform="translate(579.2,425.1) rotate(45)">WPU-IPDI(OCN)</text>
<rect x="611.4" y="375.31" width="9.7" height="41.09" fill="#076cae" stroke="none" stroke-width="1" />
<rect x="621.7" y="343.81" width="9.7" height="72.59" fill="#cb3b3e" stroke="none" stroke-width="1" />
<line x1="616.25" y1="378.56" x2="616.25" y2="371.35" stroke="#222" stroke-width="0.9" />
<line x1="614.25" y1="378.56" x2="618.25" y2="378.56" stroke="#222" stroke-width="0.9" />
<line x1="614.25" y1="371.35" x2="618.25" y2="371.35" stroke="#222" stroke-width="0.9" />
<line x1="626.55" y1="345.95" x2="626.55" y2="341.51" stroke="#222" stroke-width="0.9" />
<line x1="624.55" y1="345.95" x2="628.55" y2="345.95" stroke="#222" stroke-width="0.9" />
<line x1="624.55" y1="341.51" x2="628.55" y2="341.51" stroke="#222" stroke-width="0.9" />
<line x1="621.5" y1="236.2" x2="621.5" y2="238.6" stroke="#333" stroke-width="0.9" />
<text x="0" y="0" font-size="10.6" text-anchor="start" fill="#111" transform="translate(613.2,425.1) rotate(45)">WPU-MDI</text>
<line x1="366.3" y1="236.2" x2="638.5" y2="236.2" stroke="#222" stroke-width="1" />
<line x1="366.3" y1="416.4" x2="638.5" y2="416.4" stroke="#222" stroke-width="1" />
<line x1="366.3" y1="235.7" x2="366.3" y2="416.9" stroke="#4c97d6" stroke-width="1" />
<line x1="638.5" y1="235.7" x2="638.5" y2="416.9" stroke="#d8494d" stroke-width="1" />
<line x1="366.3" y1="416.4" x2="363.3" y2="416.4" stroke="#4c97d6" stroke-width="1" />
<text x="360.6" y="420.3" font-size="11" text-anchor="end" fill="#1c78bb" >0</text>
<line x1="366.3" y1="380.36" x2="363.3" y2="380.36" stroke="#4c97d6" stroke-width="1" />
<text x="360.6" y="384.26" font-size="11" text-anchor="end" fill="#1c78bb" >20</text>
<line x1="366.3" y1="344.32" x2="363.3" y2="344.32" stroke="#4c97d6" stroke-width="1" />
<text x="360.6" y="348.22" font-size="11" text-anchor="end" fill="#1c78bb" >40</text>
<line x1="366.3" y1="308.28" x2="363.3" y2="308.28" stroke="#4c97d6" stroke-width="1" />
<text x="360.6" y="312.18" font-size="11" text-anchor="end" fill="#1c78bb" >60</text>
<line x1="366.3" y1="272.24" x2="363.3" y2="272.24" stroke="#4c97d6" stroke-width="1" />
<text x="360.6" y="276.14" font-size="11" text-anchor="end" fill="#1c78bb" >80</text>
<line x1="366.3" y1="236.2" x2="363.3" y2="236.2" stroke="#4c97d6" stroke-width="1" />
<text x="360.6" y="240.1" font-size="11" text-anchor="end" fill="#1c78bb" >100</text>
<line x1="366.3" y1="398.38" x2="364.8" y2="398.38" stroke="#4c97d6" stroke-width="1" />
<line x1="366.3" y1="362.34" x2="364.8" y2="362.34" stroke="#4c97d6" stroke-width="1" />
<line x1="366.3" y1="326.3" x2="364.8" y2="326.3" stroke="#4c97d6" stroke-width="1" />
<line x1="366.3" y1="290.26" x2="364.8" y2="290.26" stroke="#4c97d6" stroke-width="1" />
<line x1="366.3" y1="254.22" x2="364.8" y2="254.22" stroke="#4c97d6" stroke-width="1" />
<line x1="638.5" y1="416.4" x2="641.3" y2="416.4" stroke="#d8494d" stroke-width="1" />
<text x="644.3" y="420.3" font-size="10.6" text-anchor="start" fill="#d04347" >0</text>
<line x1="638.5" y1="383.48" x2="641.3" y2="383.48" stroke="#d8494d" stroke-width="1" />
<text x="644.3" y="387.38" font-size="10.6" text-anchor="start" fill="#d04347" >200</text>
<line x1="638.5" y1="350.56" x2="641.3" y2="350.56" stroke="#d8494d" stroke-width="1" />
<text x="644.3" y="354.46" font-size="10.6" text-anchor="start" fill="#d04347" >400</text>
<line x1="638.5" y1="317.64" x2="641.3" y2="317.64" stroke="#d8494d" stroke-width="1" />
<text x="644.3" y="321.54" font-size="10.6" text-anchor="start" fill="#d04347" >600</text>
<line x1="638.5" y1="284.72" x2="641.3" y2="284.72" stroke="#d8494d" stroke-width="1" />
<text x="644.3" y="288.62" font-size="10.6" text-anchor="start" fill="#d04347" >800</text>
<line x1="638.5" y1="251.8" x2="641.3" y2="251.8" stroke="#d8494d" stroke-width="1" />
<text x="644.3" y="255.7" font-size="10.6" text-anchor="start" fill="#d04347" >1000</text>
<line x1="638.5" y1="399.94" x2="639.9" y2="399.94" stroke="#d8494d" stroke-width="1" />
<line x1="638.5" y1="367.02" x2="639.9" y2="367.02" stroke="#d8494d" stroke-width="1" />
<line x1="638.5" y1="334.1" x2="639.9" y2="334.1" stroke="#d8494d" stroke-width="1" />
<line x1="638.5" y1="301.18" x2="639.9" y2="301.18" stroke="#d8494d" stroke-width="1" />
<line x1="638.5" y1="268.26" x2="639.9" y2="268.26" stroke="#d8494d" stroke-width="1" />
<text x="0" y="0" font-size="13.4" text-anchor="start" fill="#1c78bb" transform="translate(327.3,407.2) rotate(-90)"><tspan dy="0" font-size="13.4">Tensile stress, </tspan><tspan dy="0" font-size="13.4" font-style="italic">σ</tspan><tspan dy="2.95" font-size="9.38" font-style="italic">e, </tspan><tspan dy="0" font-size="9.38">max</tspan><tspan dy="-2.95" font-size="13.4"> (MPa)</tspan></text>
<text x="0" y="0" font-size="14.1" text-anchor="start" fill="#d04347" transform="translate(673.1,267.2) rotate(90) scale(0.963,1)"><tspan dy="0" font-size="14.1">Toughness (MJ m</tspan><tspan dy="-5.08" font-size="9.87">-3</tspan><tspan dy="5.08" font-size="14.1">)</tspan></text>
</g>
<g id="panel_d">
<text x="0.6" y="501.5" font-size="16.5" text-anchor="start" fill="#000" font-weight="bold">d</text>
<defs>
<filter id="st21" x="0" y="0" width="100%" height="100%" color-interpolation-filters="sRGB"><feTurbulence type="fractalNoise" baseFrequency="0.06 1.37" numOctaves="1" seed="7" result="n"/><feColorMatrix in="n" type="matrix" values="0 0 0 0 0  0 0 0 0 0  0 0 0 0 0  4 0 0 0 -1.75" result="a0"/><feColorMatrix in="a0" type="matrix" values="0 0 0 0 0  0 0 0 0 0  0 0 0 0 0  0 0 0 0.42 0" result="a"/><feFlood flood-color="#000" result="blk"/><feComposite in="blk" in2="a" operator="in" result="dark"/><feMerge><feMergeNode in="SourceGraphic"/><feMergeNode in="dark"/></feMerge></filter>
<filter id="st24" x="0" y="0" width="100%" height="100%" color-interpolation-filters="sRGB"><feTurbulence type="fractalNoise" baseFrequency="0.08 1.43" numOctaves="1" seed="11" result="n"/><feColorMatrix in="n" type="matrix" values="0 0 0 0 0  0 0 0 0 0  0 0 0 0 0  4 0 0 0 -1.75" result="a0"/><feColorMatrix in="a0" type="matrix" values="0 0 0 0 0  0 0 0 0 0  0 0 0 0 0  0 0 0 0.36 0" result="a"/><feFlood flood-color="#000" result="blk"/><feComposite in="blk" in2="a" operator="in" result="dark"/><feMerge><feMergeNode in="SourceGraphic"/><feMergeNode in="dark"/></feMerge></filter>
<filter id="st29" x="0" y="0" width="100%" height="100%" color-interpolation-filters="sRGB"><feTurbulence type="fractalNoise" baseFrequency="0.07 1.37" numOctaves="1" seed="3" result="n"/><feColorMatrix in="n" type="matrix" values="0 0 0 0 0  0 0 0 0 0  0 0 0 0 0  3.5 0 0 0 -1.55" result="a0"/><feColorMatrix in="a0" type="matrix" values="0 0 0 0 0  0 0 0 0 0  0 0 0 0 0  0 0 0 0.2 0" result="a"/><feFlood flood-color="#000" result="blk"/><feComposite in="blk" in2="a" operator="in" result="dark"/><feMerge><feMergeNode in="SourceGraphic"/><feMergeNode in="dark"/></feMerge></filter>
<filter id="st31" x="0" y="0" width="100%" height="100%" color-interpolation-filters="sRGB"><feTurbulence type="fractalNoise" baseFrequency="0.07 1.43" numOctaves="1" seed="5" result="n"/><feColorMatrix in="n" type="matrix" values="0 0 0 0 0  0 0 0 0 0  0 0 0 0 0  3.5 0 0 0 -1.55" result="a0"/><feColorMatrix in="a0" type="matrix" values="0 0 0 0 0  0 0 0 0 0  0 0 0 0 0  0 0 0 0.2 0" result="a"/><feFlood flood-color="#000" result="blk"/><feComposite in="blk" in2="a" operator="in" result="dark"/><feMerge><feMergeNode in="SourceGraphic"/><feMergeNode in="dark"/></feMerge></filter>
<filter id="st19" x="0" y="0" width="100%" height="100%" color-interpolation-filters="sRGB"><feTurbulence type="fractalNoise" baseFrequency="0.035 1.37" numOctaves="1" seed="9" result="n"/><feColorMatrix in="n" type="matrix" values="0 0 0 0 0  0 0 0 0 0  0 0 0 0 0  3.5 0 0 0 -1.5" result="a0"/><feColorMatrix in="a0" type="matrix" values="0 0 0 0 0  0 0 0 0 0  0 0 0 0 0  0 0 0 0.3 0" result="a"/><feFlood flood-color="#000" result="blk"/><feComposite in="blk" in2="a" operator="in" result="dark"/><feMerge><feMergeNode in="SourceGraphic"/><feMergeNode in="dark"/></feMerge></filter>
<linearGradient id="g19" x1="0" y1="0" x2="0" y2="1"><stop offset="0" stop-color="#181818"/><stop offset="0.5" stop-color="#222222"/><stop offset="0.96" stop-color="#2b2b2b"/><stop offset="1" stop-color="#4e4e4e"/></linearGradient>
<linearGradient id="g21" x1="0" y1="0" x2="0" y2="1"><stop offset="0" stop-color="#2c2c2c"/><stop offset="0.04" stop-color="#4c4c4c"/><stop offset="0.5" stop-color="#5b5b5b"/><stop offset="1" stop-color="#666666"/></linearGradient>
<linearGradient id="g24" x1="0" y1="0" x2="0" y2="1"><stop offset="0" stop-color="#444444"/><stop offset="0.04" stop-color="#6c6c6c"/><stop offset="0.5" stop-color="#787878"/><stop offset="1" stop-color="#7e7e7e"/></linearGradient>
<linearGradient id="g29" x1="0" y1="0" x2="0" y2="1"><stop offset="0" stop-color="#363636"/><stop offset="0.06" stop-color="#707070"/><stop offset="0.6" stop-color="#777777"/><stop offset="0.95" stop-color="#848484"/><stop offset="1" stop-color="#4a4a4a"/></linearGradient>
<linearGradient id="g31" x1="0" y1="0" x2="0" y2="1"><stop offset="0" stop-color="#3a3a3a"/><stop offset="0.07" stop-color="#7e7e7e"/><stop offset="0.6" stop-color="#838383"/><stop offset="0.94" stop-color="#888888"/><stop offset="1" stop-color="#4a4a4a"/></linearGradient>
<linearGradient id="g16" x1="0" y1="0" x2="0" y2="1"><stop offset="0" stop-color="#040404"/><stop offset="0.12" stop-color="#101010"/><stop offset="1" stop-color="#141414"/></linearGradient>
<clipPath id="ct0"><rect x="43.3" y="579.3" width="114.2" height="86.3"/></clipPath>
<clipPath id="ct1"><rect x="163.7" y="579.3" width="114.2" height="86.3"/></clipPath>
<clipPath id="ct2"><rect x="284.1" y="579.3" width="114.2" height="86.3"/></clipPath>
<clipPath id="ct3"><rect x="404.5" y="579.3" width="114.2" height="86.3"/></clipPath>
<clipPath id="ct4"><rect x="524.9" y="579.3" width="114.2" height="86.3"/></clipPath>
</defs>
<rect x="43.3" y="487.3" width="114.2" height="86.3" fill="#030303" stroke="none" stroke-width="1" />
<rect x="125.6" y="561.9" width="19.1" height="3.2" fill="#fff" stroke="none" stroke-width="1" />
<text x="50.9" y="503.2" font-size="14" text-anchor="start" fill="#fff" ><tspan dy="0" font-size="14" font-style="italic">λ</tspan><tspan dy="0" font-size="14"> = 1</tspan></text>
<rect x="163.7" y="487.3" width="114.2" height="86.3" fill="#040404" stroke="none" stroke-width="1" />
<rect x="248" y="561.9" width="19.1" height="3.2" fill="#fff" stroke="none" stroke-width="1" />
<text x="172.4" y="503.2" font-size="14" text-anchor="start" fill="#fff" ><tspan dy="0" font-size="14" font-style="italic">λ</tspan><tspan dy="0" font-size="14"> = 4</tspan></text>
<rect x="284.1" y="487.3" width="114.2" height="86.3" fill="#080808" stroke="none" stroke-width="1" />
<rect x="372.8" y="561.9" width="19.1" height="3.2" fill="#fff" stroke="none" stroke-width="1" />
<text x="294" y="503.2" font-size="14" text-anchor="start" fill="#fff" ><tspan dy="0" font-size="14" font-style="italic">λ</tspan><tspan dy="0" font-size="14"> = 7</tspan></text>
<rect x="404.5" y="487.3" width="114.2" height="86.3" fill="#0b0b0b" stroke="none" stroke-width="1" />
<rect x="490.3" y="561.9" width="19.1" height="3.2" fill="#fff" stroke="none" stroke-width="1" />
<text x="412" y="503.2" font-size="14" text-anchor="start" fill="#fff" ><tspan dy="0" font-size="14" font-style="italic">λ</tspan><tspan dy="0" font-size="14"> = 10</tspan></text>
<rect x="524.9" y="487.3" width="114.2" height="86.3" fill="url(#g16)" stroke="none" stroke-width="1" />
<rect x="614.2" y="561.9" width="19.1" height="3.2" fill="#fff" stroke="none" stroke-width="1" />
<text x="533.1" y="503.2" font-size="14" text-anchor="start" fill="#fff" ><tspan dy="0" font-size="14" font-style="italic">λ</tspan><tspan dy="0" font-size="14"> = 16</tspan></text>
<rect x="43.3" y="579.3" width="114.2" height="86.3" fill="#020202" stroke="none" stroke-width="1" />
<g clip-path="url(#ct0)"><g transform="translate(43.3,575) skewY(-0.45)"><rect x="-1" y="0" width="116.2" height="77.8" fill="url(#g19)" filter="url(#st19)"/></g></g>
<rect x="163.7" y="579.3" width="114.2" height="86.3" fill="#020202" stroke="none" stroke-width="1" />
<g clip-path="url(#ct1)"><g transform="translate(163.7,586.4) skewY(1)"><rect x="-1" y="0" width="116.2" height="74.1" fill="url(#g21)" filter="url(#st21)"/></g></g>
<rect x="284.1" y="579.3" width="114.2" height="86.3" fill="#020202" stroke="none" stroke-width="1" />
<g clip-path="url(#ct2)"><g transform="translate(284.1,587.3) skewY(2.31)"><rect x="-1" y="0" width="116.2" height="72.3" fill="url(#g24)" filter="url(#st24)"/></g></g>
<rect x="404.5" y="579.3" width="114.2" height="86.3" fill="#020202" stroke="none" stroke-width="1" />
<g clip-path="url(#ct3)"><g transform="translate(404.5,597.2) skewY(0.1)"><rect x="-1" y="0" width="116.2" height="47" fill="url(#g29)" filter="url(#st29)"/></g></g>
<rect x="524.9" y="579.3" width="114.2" height="86.3" fill="#020202" stroke="none" stroke-width="1" />
<g clip-path="url(#ct4)"><g transform="translate(524.9,607.2) skewY(0.3)"><rect x="-1" y="0" width="116.2" height="36.5" fill="url(#g31)" filter="url(#st31)"/></g></g>
<rect x="125.4" y="652.2" width="19.1" height="2.8" fill="#fff" stroke="none" stroke-width="1" />
<text x="51" y="595.5" font-size="14" text-anchor="start" fill="#fff" ><tspan dy="0" font-size="14" font-style="italic">λ</tspan><tspan dy="0" font-size="14"> = 19</tspan></text>
<rect x="246" y="652.2" width="19.1" height="2.8" fill="#fff" stroke="none" stroke-width="1" />
<text x="168.2" y="595.5" font-size="14" text-anchor="start" fill="#fff" ><tspan dy="0" font-size="14" font-style="italic">λ</tspan><tspan dy="0" font-size="14"> = 21</tspan></text>
<rect x="369.6" y="652.2" width="19.1" height="2.8" fill="#fff" stroke="none" stroke-width="1" />
<text x="290.5" y="595.5" font-size="14" text-anchor="start" fill="#fff" ><tspan dy="0" font-size="14" font-style="italic">λ</tspan><tspan dy="0" font-size="14"> = 24</tspan></text>
<rect x="489.9" y="652.2" width="19.1" height="2.8" fill="#fff" stroke="none" stroke-width="1" />
<text x="412" y="595.5" font-size="14" text-anchor="start" fill="#fff" ><tspan dy="0" font-size="14" font-style="italic">λ</tspan><tspan dy="0" font-size="14"> = 29</tspan></text>
<rect x="614.3" y="652.2" width="19.1" height="2.8" fill="#fff" stroke="none" stroke-width="1" />
<text x="533.5" y="595.5" font-size="14" text-anchor="start" fill="#fff" ><tspan dy="0" font-size="14" font-style="italic">λ</tspan><tspan dy="0" font-size="14"> = 31</tspan></text>
</g>
<g id="panel_e">
<text x="0.8" y="692.6" font-size="16.5" text-anchor="start" fill="#000" font-weight="bold">e</text>
<clipPath id="ce"><rect x="42.4" y="710.6" width="225.3" height="180.9"/></clipPath>
<g clip-path="url(#ce)"><polyline points="57.5,710.6 57.56,710.6 57.61,710.6 57.67,710.6 57.72,710.6 57.78,713.03 57.84,715.96 57.89,721.92 57.95,726.94 58.01,732.35 58.06,740.31 58.12,741.59 58.17,742.76 58.23,749.41 58.29,747.78 58.34,750.64 58.4,759.49 58.46,756.69 58.51,759.39 58.57,764.09 58.62,764.62 58.68,764.7 58.74,772.42 58.79,771.81 58.85,770.92 58.9,779.05 58.96,780.04 59.02,779.22 59.07,778.61 59.13,782.31 59.19,787.48 59.24,789.18 59.3,789.45 59.35,789.92 59.41,797.06 59.47,796.56 59.52,799.4 59.58,801.65 59.64,798.31 59.69,800.69 59.75,806.75 59.8,802.26 59.86,807.22 59.92,802.5 59.97,812.93 60.03,812.51 60.08,811.05 60.14,810.49 60.2,811.9 60.25,813.18 60.31,813.84 60.37,810.47 60.42,818.93 60.48,821.1 60.53,815.63 60.59,819.97 60.65,819.31 60.7,819.99 60.76,822.22 60.82,825.18 60.87,821.85 60.93,825.46 60.98,828.99 61.04,829.68 61.1,827.16 61.15,829.82 61.21,826.22 61.26,830.88 61.32,831.01 61.38,832.41 61.43,833.45 61.49,824.52 61.55,829.74 61.6,827.28 61.66,833.39 61.71,835.68 61.77,837.8 61.83,834.26 61.88,834.27 61.94,843.07 62,836.4 62.05,834.19 62.11,829.49 62.16,838.38 62.22,835.67 62.28,847.44 62.33,841.9 62.39,839.95 62.44,845.28 62.5,843.26 62.56,836.36 62.61,835.84 62.67,854.03 62.73,842.38 62.78,834.8 62.84,850.13 62.89,846.51 62.95,860.27 63.01,852.89 63.06,841.97 63.12,837.2 63.18,848.22 63.23,843.54 63.29,828.88 63.34,846.62 63.4,851.32 63.46,850.39 63.51,842.9 63.57,839.43 63.63,858.6 63.68,851.66 63.74,850.46 63.79,847.56 63.85,847 63.91,856.9 63.96,848.38 64.02,843.35 64.07,844.14 64.13,850.32 64.19,862.57 64.24,851.73 64.3,835.1 64.36,850.62 64.41,858.27 64.47,857.64 64.52,839.38 64.58,846.44 64.64,857.78 64.69,850.96 64.75,872.77 64.81,860.7 64.86,870.84 64.92,841.03 64.97,870.09 65.03,853.68 65.09,842.13 65.14,850.85 65.2,856.97 65.25,852.73 65.31,858.48 65.37,839.55 65.42,853.96 65.48,852.72 65.54,856.7 65.59,877.76 65.65,873.47 65.7,870.59 65.76,849.23 65.82,855.02 65.87,847.44 65.93,853.87 65.99,851.69 66.04,863.81 66.1,859.85 66.15,862.68 66.21,846.64 66.27,845.07 66.32,878.1 66.38,846.94 66.43,860.85 66.49,851.69 66.55,838.91 66.6,857.43 66.66,845.91 66.72,855.8 66.77,864.65 66.83,848.01 66.88,856.58 66.94,857.41 67,857.32 67.05,835.7 67.11,856.34 67.17,868.88 67.22,847.56 67.28,848.65 67.33,854.2 67.39,855.41 67.45,863.59 67.5,848.52 67.56,867.19 67.61,862.77 67.67,855.6 67.73,856.86 67.78,848.72 67.84,868.69 67.9,851.59 67.95,858.89 68.01,848.06 68.06,864.54 68.12,835.81 68.18,886.61 68.23,857.39 68.29,860.44 68.35,860.45 68.4,857.11 68.46,859.44 68.51,865.89 68.57,860.43 68.63,860.44 68.68,861.36 68.74,854.51 68.79,851.65 68.85,848.12 68.91,851.97 68.96,862.12 69.02,866.83 69.08,854.31 69.13,840.42 69.19,855.79 69.24,882.23 69.3,841.72 69.36,858.73 69.41,863.1 69.47,853.55 69.53,864.79 69.58,859.66 69.64,867.21 69.69,854.71 69.75,848.44 69.81,857.26 69.86,843.98 69.92,853.91 69.97,830.17 70.03,865.47 70.09,872.92 70.14,861.88 70.2,857.06 70.26,863.04 70.31,848.34 70.37,846.44 70.42,848.56 70.48,849.98 70.54,850.6 70.59,862.74 70.65,867.87 70.71,852.08 70.76,853.76 70.82,856.28 70.87,844.93 70.93,864.52 70.99,858.58 71.04,870.92 71.1,854.96 71.15,864.42 71.21,839.23 71.27,870.18 71.32,869.02 71.38,879.13 71.44,846.57 71.49,864.67 71.55,850.46 71.6,857.1 71.66,851.27 71.72,856.7 71.77,869.25 71.83,860.28 71.89,859.17 71.94,858.87 72,855.44 72.05,854.68 72.11,853.1 72.17,865.81 72.22,864.42 72.28,870.14 72.33,864.23 72.39,845.8 72.45,841.92 72.5,850.15 72.56,857.12 72.62,854.63 72.67,860.86 72.73,854.5 72.78,870.07 72.84,856.5 72.9,853.96 72.95,835.37 73.01,854.96 73.07,857.63 73.12,866 73.18,853.22 73.23,848.94 73.29,847.58 73.35,846.69 73.4,889.56 73.46,848.33 73.51,871.75 73.57,843.26 73.63,859.09 73.68,844.94 73.74,859.97 73.8,880.6 73.85,859.25 73.91,863.69 73.96,859 74.02,858.76 74.08,862.17 74.13,857.68 74.19,861.71 74.25,855.85 74.3,840.67 74.36,862.06 74.41,875.37 74.47,840.06 74.53,859.33 74.58,876.52 74.64,856.85 74.69,858.34 74.75,868.07 74.81,845.69 74.86,856.77 74.92,858.25 74.98,865.46 75.03,853.33 75.09,868.31 75.14,851.89 75.2,869.86 75.26,870.11 75.31,863.7 75.37,859.51 75.43,849.99 75.48,853.82 75.54,873.06 75.59,866.48 75.65,859.62 75.71,858.58 75.76,862.88 75.82,875.45 75.88,869.21 75.93,855.14 75.99,857.24 76.04,860.95 76.1,880.4 76.16,849.3 76.21,852.52 76.27,875.47 76.32,853.1 76.38,860.01 76.44,858.41 76.49,863.43 76.55,853.62 76.61,849.06 76.66,837.1 76.72,869.97 76.77,867.83 76.83,855 76.89,873.53 76.94,873.21 77,868.41 77.06,879.4 77.11,855.37 77.17,858.66 77.22,867.62 77.28,854.79 77.34,853.44 77.39,843.33 77.45,848.04 77.5,868.07 77.56,862.82 77.62,867.64 77.67,873.98 77.73,855.63 77.79,879.16 77.84,872.49 77.9,874.73 77.95,857.27 78.01,869.81 78.07,861.89 78.12,854.41 78.18,849.49 78.24,856.97 78.29,862.89 78.35,860.48 78.4,854.31 78.46,872.85 78.52,866.38 78.57,856.07 78.63,865 78.68,854.78 78.74,861.79 78.8,846.28 78.85,861.18 78.91,851.25 78.97,851.22 79.02,847.54 79.08,850.41 79.13,873.49 79.19,848.11 79.25,859.23 79.3,859.76 79.36,848.47 79.42,858.76 79.47,865.2 79.53,864.65 79.58,872.59 79.64,867.3 79.7,874.04 79.75,865.61 79.81,857.05 79.86,851.4 79.92,874.15 79.98,860.2 80.03,856.79 80.09,856.38 80.15,830.52 80.2,848.16 80.26,856.41 80.31,865.68 80.37,878.57 80.43,860.71 80.48,861.05 80.54,885.19 80.6,863.91 80.65,861.51 80.71,843.54 80.76,861.32 80.82,850.23 80.88,867.88 80.93,862.26 80.99,859 81.04,858.85 81.1,861.99 81.16,848.23 81.21,882.52 81.27,858.37 81.33,861.81 81.38,859 81.44,875.2 81.49,854.96 81.55,858.68 81.61,870.62 81.66,887.95 81.72,868.57 81.78,861.43 81.83,867.57 81.89,863.38 81.94,854.77 82,840.72 82.06,861.25 82.11,866.65 82.17,863.78 82.22,869.78 82.28,847.46 82.34,867.47 82.39,863.81 82.45,865.71 82.51,846.62 82.56,859.04 82.62,858.06 82.67,860.39 82.73,867.44 82.79,860.64 82.84,869.32 82.9,843.9 82.96,844.52 83.01,845.86 83.07,855.23 83.12,851.08 83.18,862.07 83.24,870.86 83.29,869.62 83.35,862.03 83.4,881.01 83.46,865.7 83.52,875.6 83.57,864.16 83.63,837.38 83.69,866.6 83.74,864.21 83.8,836.25 83.85,865.17 83.91,864.39 83.97,850.84 84.02,854.67 84.08,882.62 84.14,865.62 84.19,887.08 84.25,851.39 84.3,864.29 84.36,860.8 84.42,864.99 84.47,839.5 84.53,859.49 84.58,855.01 84.64,865.03 84.7,835.42 84.75,870.77 84.81,876.81 84.87,864.6 84.92,858.58 84.98,844.93 85.03,876.8 85.09,869.15 85.15,863.65 85.2,854.35 85.26,854.93 85.32,848.88 85.37,854.49 85.43,868.84 85.48,862.55 85.54,860.91 85.6,858.23 85.65,874.72 85.71,852.87 85.76,857.48 85.82,864.15 85.88,845.45 85.93,850.05 85.99,877.01 86.05,859.28 86.1,862.35 86.16,865.99 86.21,855.44 86.27,858.55 86.33,854.6 86.38,861.98 86.44,850.06 86.5,878.79 86.55,871.16 86.61,859.09 86.66,864.03 86.72,856.61 86.78,880.76 86.83,864.96 86.89,861.52 86.95,840.53 87,859.04 87.06,867.39 87.11,848.7 87.17,842.71 87.23,853.2 87.28,868.98 87.34,856.74 87.39,837.38 87.45,858.9 87.51,845.01 87.56,866.01 87.62,872.59 87.68,876.48 87.73,856.4 87.79,870.72 87.84,868.92 87.9,852.59 87.96,853.9 88.01,865.34 88.07,858.78 88.13,845.81 88.18,861.75 88.24,858.69 88.29,855.92 88.35,858.08 88.41,861.87 88.46,870.71 88.52,859.23 88.57,880.37 88.63,864.76 88.69,860.57 88.74,863.65 88.8,855.81 88.86,863.91 88.91,852.33 88.97,856.33 89.02,857.46 89.08,848.13 89.14,858.82 89.19,867.04 89.25,851.71 89.31,861.26 89.36,859.18 89.42,863.02 89.47,872.15 89.53,862.84 89.59,873 89.64,890.15 89.7,870.47 89.75,856.52 89.81,871.09 89.87,866.45 89.92,859.86 89.98,840.81 90.04,882.87 90.09,854.43 90.15,863.27 90.2,883.88 90.26,843.77 90.32,876.31 90.37,867.68 90.43,861 90.49,882.77 90.54,874.41 90.6,874.66 90.65,862.24 90.71,876.06 90.77,858.91 90.82,862.42 90.88,861.43 90.93,849.73 90.99,871.2 91.05,881.81 91.1,846.64 91.16,852.29 91.22,851.79 91.27,877.79 91.33,854.93 91.38,872.38 91.44,860.95 91.5,852.83 91.55,875.91 91.61,867.74 91.67,862.09 91.72,867.11 91.78,868.84 91.83,860.99 91.89,864.02 91.95,866.14 92,864.32 92.06,864.02 92.11,863.83 92.17,855.69 92.23,869.31 92.28,845.77 92.34,858.29 92.4,860.64 92.45,872.64 92.51,854.58 92.56,858 92.62,878.18 92.68,850.71 92.73,843.68 92.79,868.51 92.85,849.19 92.9,862.79 92.96,862.37 93.01,879.26 93.07,870.88 93.13,873.08 93.18,876.69 93.24,862.99 93.29,853.8 93.35,873.93 93.41,877.63 93.46,865.91 93.52,869.25 93.58,888.26 93.63,878.28 93.69,857.85 93.74,850.63 93.8,866.7 93.86,862.03 93.91,865.71 93.97,876.1 94.03,864.42 94.08,864.06 94.14,878.86 94.19,853.66 94.25,868.77 94.31,869.19 94.36,857.05 94.42,865.27 94.47,874.66 94.53,866.09 94.59,866.89 94.64,859.13 94.7,871.25 94.76,849 94.81,869.59 94.87,861.13 94.92,867.41 94.98,867.18 95.04,875.45 95.09,873.91 95.15,868.29 95.21,859.76 95.26,851.92 95.32,865.3 95.37,855.5 95.43,849.62 95.49,878.3 95.54,872.96 95.6,865.66 95.65,880.41 95.71,853.58 95.77,845.59 95.82,870.87 95.88,857.63 95.94,869.1 95.99,867.16 96.05,864.98 96.1,859.98 96.16,860.26 96.22,860.61 96.27,879.86 96.33,871.82 96.39,868.29 96.44,866.82 96.5,870.47 96.55,875.29 96.61,870.61 96.67,860.81 96.72,877.56 96.78,865.5 96.83,858.89 96.89,863.75 96.95,862.06 97,880.61 97.06,866.55 97.12,854.59 97.17,860.45 97.23,862.71 97.28,869.64 97.34,867.02 97.4,859.43 97.45,855.95 97.51,871.9 97.57,859.64 97.62,856.36 97.68,875.88 97.73,884.08 97.79,856.26 97.85,883.78 97.9,876.1 97.96,854.21 98.01,855.02 98.07,881.91 98.13,852.03 98.18,862.56 98.24,870.84 98.3,865.62 98.35,859.79 98.41,866.03 98.46,867.26 98.52,859.32 98.58,865.67 98.63,862.94 98.69,865.81 98.75,857.36 98.8,876.2 98.86,855.97 98.91,844.34 98.97,857.05 99.03,857.79 99.08,870.97 99.14,858.46 99.2,848.79 99.25,865.36 99.31,847.42 99.36,856.3 99.42,878.29 99.48,868.59 99.53,861.11 99.59,868.69 99.64,857.26 99.7,873.26 99.76,869.14 99.81,858.84 99.87,865.99 99.93,849.22 99.98,882.39 100.04,863.72 100.09,863.46 100.15,862.07 100.21,848.37 100.26,869.53 100.32,862.52 100.38,861.09 100.43,865.48 100.49,866.96 100.54,857.59 100.6,861.95 100.66,869.9 100.71,868.18 100.77,871.07 100.82,866.39 100.88,866.94 100.94,877.53 100.99,847.32 101.05,866.82 101.11,877.66 101.16,879 101.22,864.73 101.27,858.11 101.33,859.51 101.39,882.55 101.44,857.26 101.5,854.6 101.56,862.54 101.61,865.52 101.67,860.5 101.72,858.29 101.78,853.65 101.84,865.92 101.89,869.2 101.95,859.36 102,865.53 102.06,869.35 102.12,855.47 102.17,864.48 102.23,852.62 102.29,853.04 102.34,870.08 102.4,864.13 102.45,871.33 102.51,874.99 102.57,880.93 102.62,866.84 102.68,869.8 102.74,863.13 102.79,861.78 102.85,870.05 102.9,871.87 102.96,865.57 103.02,869.69 103.07,873.73 103.13,857.53 103.18,859.5 103.24,859.99 103.3,874.28 103.35,857.17 103.41,858.8 103.47,855.27 103.52,858.05 103.58,863.89 103.63,859.06 103.69,860.89 103.75,858.49 103.8,861.25 103.86,870.11 103.92,862.03 103.97,869.32 104.03,890.58 104.08,877.98 104.14,846.5 104.2,867.68 104.25,866.19 104.31,865.25 104.36,863.31 104.42,850.02 104.48,868.93 104.53,868.37 104.59,866.65 104.65,874.29 104.7,861.41 104.76,874.28 104.81,865.55 104.87,862.62 104.93,867.11 104.98,863.17 105.04,853.7 105.1,857.29 105.15,872.68 105.21,835.46 105.26,857.81 105.32,867.61 105.38,859.14 105.43,871.22 105.49,870.68 105.54,863.63 105.6,859.93 105.66,852.83 105.71,851.47 105.77,856.98 105.83,868.3 105.88,849.9 105.94,864.73 105.99,877.21 106.05,859.69 106.11,859.56 106.16,854.26 106.22,851.62 106.28,874.29 106.33,875.05 106.39,876.38 106.44,866.32 106.5,864.87 106.56,868.44 106.61,872.98 106.67,876.82 106.72,874.31 106.78,865.46 106.84,865.43 106.89,871.77 106.95,869.22 107.01,852.84 107.06,859.17 107.12,865.06 107.17,865.29 107.23,853.13 107.29,859.16 107.34,852.25 107.4,878.99 107.46,876.51 107.51,856.69 107.57,861.4 107.62,865.97 107.68,844.3 107.74,866.59 107.79,855.31 107.85,868.89 107.9,863.87 107.96,868.84 108.02,863.99 108.07,872.49 108.13,855.79 108.19,853.17 108.24,851.63 108.3,863.11 108.35,866.83 108.41,862.53 108.47,859.11 108.52,868.71 108.58,872.03 108.64,855.59 108.69,847.63 108.75,850.95 108.8,866.04 108.86,865.38 108.92,851.21 108.97,844.67 109.03,862.14 109.08,848.55 109.14,865.73 109.2,864.26 109.25,882.46 109.31,857.28 109.37,859.78 109.42,855.83 109.48,872.01 109.53,855.66 109.59,855.9 109.65,848.75 109.7,870.03 109.76,866.83 109.82,864.05 109.87,856.53 109.93,871.25 109.98,852.87 110.04,865.78 110.1,862.64 110.15,859.48 110.21,860.52 110.27,861.01 110.32,861.7 110.38,866.08 110.43,842.76 110.49,881.19 110.55,866.24 110.6,862.54 110.66,857.58 110.71,859.23 110.77,853.31 110.83,854.38 110.88,854.83 110.94,851.12 111,862.47 111.05,854.36 111.11,872.89 111.16,858.77 111.22,844.61 111.28,874.2 111.33,852.12 111.39,859.97 111.45,870.29 111.5,854.86 111.56,868.32 111.61,866.44 111.67,864.59 111.73,862.85 111.78,869 111.84,877.99 111.89,854.6 111.95,865.92 112.01,842.63 112.06,872.03 112.12,855.68 112.18,861.17 112.23,839.77 112.29,864.26 112.34,869.61 112.4,856.48 112.46,856.87 112.51,864.29 112.57,857.41 112.63,871.38 112.68,869.2 112.74,856.98 112.79,865.77 112.85,875.12 112.91,837.76 112.96,861.27 113.02,847.07 113.07,858.03 113.13,874.55 113.19,851.34 113.24,854.22 113.3,861.78 113.36,863.89 113.41,855.13 113.47,866.6 113.52,866.39 113.58,851.32 113.64,868.96 113.69,859.83 113.75,856.55 113.81,861.46 113.86,870.04 113.92,856.85 113.97,860.37 114.03,867.2 114.09,854.32 114.14,846.91 114.2,882.16 114.25,847.2 114.31,864.36 114.37,840.43 114.42,852.78 114.48,887.52 114.54,862.53 114.59,853.54 114.65,869.85 114.7,859.28 114.76,860.54 114.82,886.07 114.87,860.64 114.93,865.44 114.99,876.9 115.04,860.12 115.1,854.46 115.15,863.49 115.21,872.63 115.27,866.08 115.32,861.13 115.38,869.12 115.43,856.42 115.49,857.28 115.55,858.5 115.6,867.18 115.66,854.37 115.72,857.35 115.77,865.78 115.83,841.6 115.88,865.32 115.94,863.37 116,861.72 116.05,851.68 116.11,857.21 116.17,856.78 116.22,867.39 116.28,845.11 116.33,877.52 116.39,854.59 116.45,879.21 116.5,833.04 116.56,856.49 116.61,845.37 116.67,862.44 116.73,871.5 116.78,877.71 116.84,852.9 116.9,840.84 116.95,875.24 117.01,862.38 117.06,856.67 117.12,860.22 117.18,832.9 117.23,843.02 117.29,857.07 117.35,844.85 117.4,857.94 117.46,852.04 117.51,857.3 117.57,851.02 117.63,858.44 117.68,874.03 117.74,873.07 117.79,864.16 117.85,858.33 117.91,845.36 117.96,866.46 118.02,854.21 118.08,856.48 118.13,859.66 118.19,847.37 118.24,865.31 118.3,858.73 118.36,864.14 118.41,854.53 118.47,837.78 118.53,859.84 118.58,876.81 118.64,859.72 118.69,864.53 118.75,848.89 118.81,854.21 118.86,846.89 118.92,857.27 118.97,878.79 119.03,873.81 119.09,859.64 119.14,870.08 119.2,849.83 119.26,863.25 119.31,861.07 119.37,862.7 119.42,859.81 119.48,871.08 119.54,857.79 119.59,868.21 119.65,866.01 119.71,861.85 119.76,839.18 119.82,852.65 119.87,854.46 119.93,862.76 119.99,860.6 120.04,852.13 120.1,870.76 120.15,856.9 120.21,847.28 120.27,859.86 120.32,835.44 120.38,853.69 120.44,845.14 120.49,861.48 120.55,859.86 120.6,860.62 120.66,867.91 120.72,848.81 120.77,860.58 120.83,871.32 120.89,851.71 120.94,869.38 121,863.39 121.05,864.39 121.11,857.02 121.17,863.44 121.22,855.72 121.28,870.82 121.34,864.49 121.39,845.31 121.45,850.31 121.5,857.73 121.56,860.73 121.62,861.86 121.67,870.41 121.73,858.56 121.78,855.49 121.84,849.72 121.9,852.69 121.95,864.54 122.01,860.16 122.07,869.66 122.12,862.64 122.18,861.46 122.23,859.47 122.29,867.07 122.35,859.93 122.4,859.55 122.46,857.61 122.52,862.18 122.57,857.59 122.63,856.65 122.68,864.5 122.74,844.52 122.8,847.9 122.85,855.17 122.91,849.27 122.96,866.09 123.02,860.54 123.08,864.56 123.13,857.32 123.19,858.59 123.25,865.7 123.3,853.14 123.36,860.77 123.41,863.45 123.47,854.66 123.53,856.44 123.58,861.95 123.64,858.06 123.7,859.82 123.75,866.83 123.81,855.32 123.86,853.69 123.92,854.72 123.98,851.06 124.03,852.43 124.09,850.46 124.14,855.47 124.2,856.21 124.26,870.21 124.31,844.97 124.37,856.44 124.43,857.03 124.48,856.73 124.54,841.13 124.59,847.74 124.65,853.5 124.71,864.92 124.76,859.55 124.82,837.1 124.88,869.66 124.93,855.02 124.99,864.08 125.04,882.83 125.1,847.79 125.16,848.65 125.21,860.52 125.27,875.46 125.32,870.66 125.38,869.82 125.44,848.79 125.49,835.89 125.55,853.55 125.61,860.07 125.66,852.1 125.72,864.96 125.77,855.23 125.83,850.08 125.89,856.41 125.94,854.09 126,862.65 126.06,861.36 126.11,859.54 126.17,859.76 126.22,849.58 126.28,865.3 126.34,862.19 126.39,852.87 126.45,866.09 126.5,859.93 126.56,854.59 126.62,854.17 126.67,865.12 126.73,879.67 126.79,877.84 126.84,863.68 126.9,853.47 126.95,859.32 127.01,853.68 127.07,855.73 127.12,859.01 127.18,866.53 127.24,877.62 127.29,862.91 127.35,852.99 127.4,855.51 127.46,867.37 127.52,865.85 127.57,861.94 127.63,864.97 127.68,852.13 127.74,855.25 127.8,846.21 127.85,865.49 127.91,855.26 127.97,870.91 128.02,865.48 128.08,857.11 128.13,862.01 128.19,846.2 128.25,858.08 128.3,852.16 128.36,854.26 128.42,864.67 128.47,864.22 128.53,857.7 128.58,854.84 128.64,854.81 128.7,861.9 128.75,859.52 128.81,851.45 128.86,852.52 128.92,850.65 128.98,869.22 129.03,868.15 129.09,850.09 129.15,851.85 129.2,854.3 129.26,867.39 129.31,862.99 129.37,863.64 129.43,850.62 129.48,854.33 129.54,871.25 129.6,843.95 129.65,846.9 129.71,858.32 129.76,849.9 129.82,856.56 129.88,859.65 129.93,843.88 129.99,854.11 130.04,864.41 130.1,841.25 130.16,853.96 130.21,849.86 130.27,856.11 130.33,843.62 130.38,842.26 130.44,876.11 130.49,872.75 130.55,853.86 130.61,843.58 130.66,849.18 130.72,849.14 130.78,856.18 130.83,836.6 130.89,855.38 130.94,850.83 131,858.24 131.06,863.33 131.11,854.12 131.17,860.63 131.22,854.33 131.28,860.31 131.34,851.11 131.39,860.3 131.45,864.31 131.51,869.17 131.56,849.54 131.62,863.23 131.67,851.84 131.73,846.36 131.79,853.13 131.84,842.6 131.9,859.9 131.96,848.41 132.01,847.59 132.07,857.57 132.12,850.83 132.18,851.45 132.24,867.08 132.29,855.07 132.35,863.5 132.4,863.59 132.46,861.81 132.52,842.71 132.57,860.24 132.63,841.82 132.69,850.44 132.74,859.35 132.8,850.52 132.85,852.13 132.91,844.46 132.97,861.85 133.02,861.01 133.08,858.74 133.14,859.46 133.19,854.35 133.25,851.07 133.3,864.61 133.36,866.17 133.42,853.66 133.47,850.53 133.53,845.89 133.59,853.58 133.64,840.32 133.7,861 133.75,860.36 133.81,860.26 133.87,865.88 133.92,843.37 133.98,844.18 134.03,853.95 134.09,852.81 134.15,849.29 134.2,848.75 134.26,860.06 134.32,856.42 134.37,863.03 134.43,878.45 134.48,841.24 134.54,834.38 134.6,832.63 134.65,863.89 134.71,847.28 134.77,858.61 134.82,869.8 134.88,853.84 134.93,876.07 134.99,863.81 135.05,853.63 135.1,861.64 135.16,850.33 135.21,841.65 135.27,851.47 135.33,859.69 135.38,873.3 135.44,849.86 135.5,846.46 135.55,871.51 135.61,866.39 135.66,850.25 135.72,860.4 135.78,846.67 135.83,855.11 135.89,866.92 135.95,838.71 136,861.66 136.06,856.16 136.11,852.47 136.17,861.59 136.23,858.61 136.28,841.09 136.34,839.03 136.39,849.05 136.45,863.56 136.51,854.56 136.56,842.25 136.62,856.82 136.68,855.49 136.73,838.46 136.79,852.91 136.84,854.77 136.9,856.39 136.96,854.33 137.01,855.14 137.07,862.93 137.13,869.13 137.18,858.77 137.24,867.44 137.29,857.47 137.35,880.23 137.41,858.83 137.46,849.26 137.52,868.48 137.57,851.22 137.63,855.15 137.69,856.19 137.74,861.81 137.8,861.64 137.86,857.56 137.91,864.08 137.97,857.1 138.02,861.29 138.08,850.05 138.14,863.64 138.19,860.96 138.25,848.86 138.31,862.02 138.36,856.46 138.42,858.62 138.47,863.98 138.53,843.45 138.59,850.91 138.64,850.84 138.7,848.4 138.75,858.9 138.81,855.12 138.87,865.44 138.92,850.47 138.98,832.05 139.04,864.29 139.09,854.21 139.15,865.14 139.2,846.49 139.26,853.88 139.32,849.92 139.37,849.93 139.43,845.27 139.49,851.88 139.54,856.07 139.6,848.89 139.65,848.21 139.71,858.16 139.77,833.79 139.82,836.66 139.88,827.53 139.93,855.33 139.99,862.68 140.05,853.88 140.1,846.89 140.16,856.87 140.22,856.63 140.27,865.2 140.33,840.93 140.38,857.63 140.44,856.78 140.5,860.04 140.55,861.89 140.61,837.46 140.67,833.91 140.72,861.18 140.78,858.69 140.83,856.02 140.89,850.17 140.95,843.95 141,842.86 141.06,862.45 141.11,855.66 141.17,860.41 141.23,859.96 141.28,847.74 141.34,849.77 141.4,856.73 141.45,857.16 141.51,862.56 141.56,848.37 141.62,855.64 141.68,853.99 141.73,829.62 141.79,864.01 141.85,850.04 141.9,861.15 141.96,850.7 142.01,840.85 142.07,856.76 142.13,850.55 142.18,864.84 142.24,846.74 142.29,853.74 142.35,855.17 142.41,869.95 142.46,858.39 142.52,860.09 142.58,853.2 142.63,857.17 142.69,860.19 142.74,862.92 142.8,846.94 142.86,854.76 142.91,851.35 142.97,836.7 143.03,857.23 143.08,841.5 143.14,838.23 143.19,853.86 143.25,867.05 143.31,846.98 143.36,841.4 143.42,858.57 143.47,859.43 143.53,868.11 143.59,852.14 143.64,849.45 143.7,862.69 143.76,835.29 143.81,859.2 143.87,856.17 143.92,852.48 143.98,849.85 144.04,859.59 144.09,856.94 144.15,857.98 144.21,847.75 144.26,857.98 144.32,859.12 144.37,849.16 144.43,861.85 144.49,846.57 144.54,851.88 144.6,838.44 144.66,857.05 144.71,825.53 144.77,852.31 144.82,860.94 144.88,861.28 144.94,846.76 144.99,856.59 145.05,851.37 145.1,849.6 145.16,825.35 145.22,848.88 145.27,857.9 145.33,858.8 145.39,859 145.44,845.1 145.5,841.55 145.55,842.67 145.61,858.17 145.67,846.86 145.72,860.29 145.78,862.86 145.84,860.79 145.89,843.49 145.95,844.47 146,854.96 146.06,854.39 146.12,849.06 146.17,861.13 146.23,856.48 146.28,856.31 146.34,839.12 146.4,845.58 146.45,859.99 146.51,843.87 146.57,856.17 146.62,854.5 146.68,847.86 146.73,840.87 146.79,846.45 146.85,851.61 146.9,857.64 146.96,855.38 147.02,866.57 147.07,843.86 147.13,850.36 147.18,849.68 147.24,840.77 147.3,857.32 147.35,859.6 147.41,858.96 147.46,856.56 147.52,854.15 147.58,845.74 147.63,842.09 147.69,846.03 147.75,847.62 147.8,850.37 147.86,862.68 147.91,852.93 147.97,852.19 148.03,850.8 148.08,830.72 148.14,859.35 148.2,860.38 148.25,853.98 148.31,841.87 148.36,842.78 148.42,849.82 148.48,847.57 148.53,845.63 148.59,863.58 148.64,856.38 148.7,839.76 148.76,860 148.81,843.65 148.87,854.78 148.93,853.28 148.98,849.81 149.04,843.5 149.09,855.33 149.15,868.5 149.21,835.06 149.26,857.31 149.32,860.09 149.38,864.2 149.43,835.69 149.49,848.26 149.54,846.55 149.6,847.7 149.66,852.09 149.71,857.75 149.77,857.66 149.82,842.74 149.88,868.76 149.94,849.24 149.99,851.19 150.05,850.71 150.11,843.96 150.16,850.93 150.22,850.21 150.27,846.55 150.33,852.84 150.39,848.94 150.44,857.79 150.5,849.04 150.56,853 150.61,848.75 150.67,837.44 150.72,849.36 150.78,842.61 150.84,852.63 150.89,843.54 150.95,823.71 151,848.76 151.06,848.33 151.12,833.17 151.17,854.45 151.23,839.75 151.29,834.54 151.34,855.64 151.4,850.13 151.45,842.06 151.51,848.13 151.57,833.22 151.62,841.77 151.68,853.93 151.74,846.73 151.79,845.45 151.85,854.53 151.9,851.33 151.96,859.11 152.02,844.58 152.07,855.46 152.13,862.3 152.18,849.41 152.24,857.95 152.3,849.35 152.35,855.62 152.41,838.88 152.47,847.58 152.52,833.28 152.58,860.18 152.63,858.89 152.69,846.68 152.75,839.76 152.8,855.38 152.86,842.38 152.92,839.38 152.97,863.54 153.03,849.98 153.08,853.69 153.14,860.36 153.2,836.55 153.25,854.67 153.31,853.02 153.36,839.75 153.42,863.41 153.48,842.74 153.53,875.64 153.59,854.45 153.65,829.93 153.7,859.81 153.76,844.89 153.81,850.43 153.87,839.3 153.93,840.95 153.98,840.36 154.04,841.96 154.1,861.02 154.15,857.69 154.21,843.9 154.26,850.14 154.32,857.63 154.38,839.41 154.43,823.54 154.49,841.78 154.54,853.63 154.6,860.35 154.66,847.04 154.71,848.18 154.77,848.13 154.83,843.68 154.88,843.8 154.94,855.9 154.99,863.71 155.05,875.21 155.11,854.06 155.16,845.36 155.22,863.3 155.28,841.25 155.33,847.26 155.39,855.24 155.44,848.45 155.5,843 155.56,853.22 155.61,851.71 155.67,828.75 155.72,835.98 155.78,845.27 155.84,830.5 155.89,846.58 155.95,851.45 156.01,838.98 156.06,853.35 156.12,838.69 156.17,849.52 156.23,857.62 156.29,846.89 156.34,828.31 156.4,821.16 156.46,845.74 156.51,858.8 156.57,864.7 156.62,859.84 156.68,844.18 156.74,857.22 156.79,861.97 156.85,846.72 156.91,852.92 156.96,847.59 157.02,831.61 157.07,834.53 157.13,846.84 157.19,847.56 157.24,848.11 157.3,853.04 157.35,850.28 157.41,856.37 157.47,842.58 157.52,838.94 157.58,843.14 157.64,849.9 157.69,859.39 157.75,842.34 157.8,845.37 157.86,847.18 157.92,843.34 157.97,839.2 158.03,849.89 158.09,840.64 158.14,862.3 158.2,832.59 158.25,854.65 158.31,863.11 158.37,860.59 158.42,841.16 158.48,832.88 158.53,854.48 158.59,845.19 158.65,841.59 158.7,848.44 158.76,857.44 158.82,842.85 158.87,841.17 158.93,843.95 158.98,872.03 159.04,827.83 159.1,857.33 159.15,853.28 159.21,850.28 159.27,846.5 159.32,838.74 159.38,842.31 159.43,846 159.49,854.02 159.55,846.12 159.6,854.88 159.66,855.62 159.71,849.38 159.77,845.46 159.83,843.44 159.88,840.47 159.94,847.19 160,839.32 160.05,849.38 160.11,853.68 160.16,848.34 160.22,860.68 160.28,841.33 160.33,848.95 160.39,861.65 160.45,841.04 160.5,847.85 160.56,841.94 160.61,840.8 160.67,850.31 160.73,836.36 160.78,841.2 160.84,854.05 160.89,847.72 160.95,833.97 161.01,821.07 161.06,837.57 161.12,854.63 161.18,854.79 161.23,849.97 161.29,856.46 161.34,831 161.4,837.06 161.46,851.54 161.51,848.61 161.57,842.22 161.63,837.39 161.68,847.95 161.74,845.93 161.79,851.12 161.85,843 161.91,849.44 161.96,857.53 162.02,851.34 162.07,854.35 162.13,850.62 162.19,852.56 162.24,854.81 162.3,846.81 162.36,846.04 162.41,839.98 162.47,849.01 162.52,828.26 162.58,848.87 162.64,850.65 162.69,817.72 162.75,835.53 162.81,843.97 162.86,839.33 162.92,827.51 162.97,858.05 163.03,847.03 163.09,851.82 163.14,851.5 163.2,848.21 163.25,833.3 163.31,845.74 163.37,846.21 163.42,847.56 163.48,840.2 163.54,859.16 163.59,827.37 163.65,853.47 163.7,844.44 163.76,843.27 163.82,820.64 163.87,866.3 163.93,844.19 163.99,832.15 164.04,835.67 164.1,847.94 164.15,847.3 164.21,843.67 164.27,847.15 164.32,831.6 164.38,829.81 164.43,842.83 164.49,850.89 164.55,838.73 164.6,838.8 164.66,837.04 164.72,846.19 164.77,847.29 164.83,839.61 164.88,831.8 164.94,825.77 165,848.11 165.05,841.95 165.11,832.7 165.17,838 165.22,837.55 165.28,835 165.33,838.49 165.39,841.68 165.45,844.87 165.5,841.07 165.56,839.88 165.61,848.47 165.67,839.31 165.73,869.8 165.78,821.92 165.84,839.51 165.9,849.12 165.95,854.1 166.01,841.16 166.06,854.48 166.12,842.96 166.18,838.98 166.23,840.85 166.29,840.9 166.35,845.48 166.4,826.51 166.46,849.47 166.51,863.47 166.57,839.13 166.63,832.15 166.68,842.9 166.74,833.2 166.79,833.69 166.85,824.44 166.91,842.54 166.96,827.67 167.02,839.51 167.08,837.84 167.13,852 167.19,852.7 167.24,835.45 167.3,825.28 167.36,819.3 167.41,844.02 167.47,832.06 167.53,813.71 167.58,839.33 167.64,842.59 167.69,844.65 167.75,840.91 167.81,839.95 167.86,837.6 167.92,844.06 167.98,824.06 168.03,840.94 168.09,848.25 168.14,833.2 168.2,834.88 168.26,819.89 168.31,852.1 168.37,839.94 168.42,839.98 168.48,849.77 168.54,847.18 168.59,834.86 168.65,833.55 168.71,865.59 168.76,839.32 168.82,831.75 168.87,846.5 168.93,867.03 168.99,866.28 169.04,834.13 169.1,839.96 169.16,843.31 169.21,860.89 169.27,840.62 169.32,838.18 169.38,829.59 169.44,845.1 169.49,832.11 169.55,844.96 169.6,841.55 169.66,816.49 169.72,829.48 169.77,830.03 169.83,860.38 169.89,833.18 169.94,839.92 170,830.75 170.05,835.18 170.11,826.47 170.17,845.91 170.22,838.33 170.28,827.04 170.34,812.59 170.39,841 170.45,832.82 170.5,840.09 170.56,832.76 170.62,838.01 170.67,839.41 170.73,844.07 170.78,839.36 170.84,831.42 170.9,837.12 170.95,834.37 171.01,847.02 171.07,836.33 171.12,812.64 171.18,839.95 171.23,823.18 171.29,841.75 171.35,851.1 171.4,829.1 171.46,835.16 171.52,838.7 171.57,838.73 171.63,832.91 171.68,831.17 171.74,834.41 171.8,827.83 171.85,848.79 171.91,846.11 171.96,836.78 172.02,848.42 172.08,829.12 172.13,826.58 172.19,838.44 172.25,826.75 172.3,842.82 172.36,833.53 172.41,842.98 172.47,818.79 172.53,842.26 172.58,831.02 172.64,826.01 172.7,837.55 172.75,834.61 172.81,850.63 172.86,860.41 172.92,828 172.98,823.08 173.03,843.35 173.09,834.63 173.14,843.32 173.2,826.37 173.26,854.71 173.31,832.82 173.37,811.55 173.43,830.56 173.48,833.76 173.54,836.23 173.59,842 173.65,844.66 173.71,844.68 173.76,841.29 173.82,833.85 173.88,824.23 173.93,837.05 173.99,848.75 174.04,841.97 174.1,829.59 174.16,847.01 174.21,829 174.27,836.26 174.32,832.59 174.38,827.32 174.44,829.7 174.49,835.38 174.55,823.2 174.61,831.84 174.66,834.38 174.72,825.45 174.77,834.48 174.83,829.66 174.89,828.89 174.94,826.7 175,824.64 175.06,833.55 175.11,820.46 175.17,830.88 175.22,839.21 175.28,829.64 175.34,834.64 175.39,846.82 175.45,827.72 175.5,821.66 175.56,832.55 175.62,814.09 175.67,835.33 175.73,812.86 175.79,830.41 175.84,822.45 175.9,829.68 175.95,839.82 176.01,834.8 176.07,841.97 176.12,816.99 176.18,823.44 176.24,839.13 176.29,822.8 176.35,819 176.4,822.85 176.46,825.17 176.52,831.97 176.57,826.33 176.63,834.77 176.68,832.06 176.74,819.49 176.8,818.6 176.85,820.08 176.91,819.08 176.97,825.51 177.02,827.9 177.08,828.73 177.13,827.6 177.19,821.4 177.25,817.13 177.3,834.84 177.36,827.76 177.42,828.06 177.47,830.31 177.53,823.8 177.58,822.99 177.64,835.34 177.7,814.09 177.75,838.6 177.81,804.83 177.86,811.54 177.92,831.8 177.98,818.74 178.03,818.47 178.09,830.26 178.15,820.22 178.2,825.52 178.26,823.92 178.31,816.44 178.37,828.8 178.43,838.74 178.48,837.77 178.54,818.86 178.6,814.75 178.65,837.54 178.71,826.55 178.76,834.66 178.82,830.91 178.88,807.98 178.93,839.41 178.99,820.61 179.04,826.83 179.1,834.11 179.16,819.61 179.21,821.85 179.27,824.23 179.33,831.62 179.38,821.35 179.44,823.51 179.49,821.79 179.55,812.17 179.61,826.52 179.66,839.65 179.72,827.37 179.78,826.26 179.83,827.15 179.89,824.54 179.94,801.87 180,817.29 180.06,817.97 180.11,827.28 180.17,837.07 180.23,823.39 180.28,818.8 180.34,832.48 180.39,832.9 180.45,796.11 180.51,822.88 180.56,813.28 180.62,827.24 180.67,829.52 180.73,810.14 180.79,827.44 180.84,826.13 180.9,814.22 180.96,832.49 181.01,823.53 181.07,834.92 181.12,838.27 181.18,811.77 181.24,819.27 181.29,824.93 181.35,839.15 181.41,818.54 181.46,841.78 181.52,835.46 181.57,799.06 181.63,823.65 181.69,813.98 181.74,810.36 181.8,821.15 181.85,803.17 181.91,820.25 181.97,822.06 182.02,827.56 182.08,806.76 182.14,812.56 182.19,829.74 182.25,833.44 182.3,816.54 182.36,825.8 182.42,814.92 182.47,830.94 182.53,831.09 182.59,819.84 182.64,822.77 182.7,833.87 182.75,826.38 182.81,822.05 182.87,828.9 182.92,829.1 182.98,828.4 183.03,822.16 183.09,817.3 183.15,825.97 183.2,828.2 183.26,827.92 183.32,849.5 183.37,839.59 183.43,841.51 183.48,827.22 183.54,823.17 183.6,835.26 183.65,832.63 183.71,815.49 183.77,824.56 183.82,843.83 183.88,815.64 183.93,792.99 183.99,838.52 184.05,829.07 184.1,822.39 184.16,812.1 184.21,830.33 184.27,808.49 184.33,823.25 184.38,818.02 184.44,829.06 184.5,805.87 184.55,824.05 184.61,843.64 184.66,816.3 184.72,821.89 184.78,813.39 184.83,796.27 184.89,831.92 184.95,844.44 185,820.52 185.06,813.81 185.11,812.28 185.17,835.46 185.23,825.47 185.28,822.23 185.34,833.82 185.39,823.32 185.45,808.04 185.51,817.07 185.56,834.6 185.62,832.94 185.68,818.45 185.73,821.42 185.79,838.99 185.84,818.78 185.9,821.45 185.96,813.35 186.01,828.61 186.07,812.64 186.13,821.29 186.18,819.72 186.24,822.48 186.29,828.62 186.35,827.97 186.41,825.14 186.46,835.63 186.52,818.31 186.57,804.56 186.63,817.55 186.69,815.81 186.74,820.24 186.8,812.06 186.86,813.75 186.91,846.62 186.97,815.44 187.02,824.13 187.08,801.16 187.14,790.15 187.19,807.56 187.25,832.43 187.31,821.34 187.36,818.38 187.42,828.26 187.47,812.31 187.53,823.8 187.59,814.82 187.64,817.67 187.7,830.71 187.75,823.12 187.81,816.98 187.87,815.9 187.92,809.84 187.98,799.2 188.04,808.08 188.09,813.96 188.15,812.83 188.2,805.22 188.26,809.56 188.32,814.47 188.37,820.18 188.43,815.48 188.49,820.48 188.54,806.28 188.6,817.02 188.65,809.99 188.71,815.28 188.77,819.54 188.82,808.88 188.88,820.91 188.93,811.52 188.99,825.72 189.05,818.73 189.1,813.63 189.16,811.47 189.22,816.56 189.27,818.18 189.33,814.41 189.38,806.57 189.44,831.5 189.5,818.02 189.55,825.1 189.61,809.28 189.67,820.59 189.72,830.35 189.78,804.86 189.83,815.03 189.89,821.73 189.95,803.2 190,815.72 190.06,801.33 190.11,802.49 190.17,812.1 190.23,800.57 190.28,828.08 190.34,816.1 190.4,810.84 190.45,814.76 190.51,814.69 190.56,813.52 190.62,795.19 190.68,816.42 190.73,808.31 190.79,831.86 190.85,813.27 190.9,820.51 190.96,812.64 191.01,801.81 191.07,807.47 191.13,819.14 191.18,821.51 191.24,816.89 191.3,809.39 191.35,831.82 191.41,811.03 191.46,808.42 191.52,817.05 191.58,814.21 191.63,809.78 191.69,812.54 191.74,819.66 191.8,810.68 191.86,817.99 191.91,811.78 191.97,810.22 192.03,818.05 192.08,817.05 192.14,810.81 192.19,819.67 192.25,812.76 192.31,821.26 192.36,825.12 192.42,819.26 192.48,816.67 192.53,812.59 192.59,818.21 192.64,808.72 192.7,823.56 192.76,807.02 192.81,796.91 192.87,801.7 192.92,813.5 192.98,811.93 193.04,806.42 193.09,809.65 193.15,800.05 193.21,807.33 193.26,829.74 193.32,820.61 193.37,827.24 193.43,813.56 193.49,800.37 193.54,797.11 193.6,818.18 193.66,818.35 193.71,814.58 193.77,831.56 193.82,817.84 193.88,790.02 193.94,819.9 193.99,810.09 194.05,810.17 194.1,809.76 194.16,816.27 194.22,803.68 194.27,806.17 194.33,807.52 194.39,820.74 194.44,825.49 194.5,793.68 194.55,798.56 194.61,826.26 194.67,798.89 194.72,821.76 194.78,813.54 194.84,797.52 194.89,822.84 194.95,804.33 195,801.41 195.06,802.33 195.12,802.9 195.17,811.34 195.23,804.87 195.28,815.17 195.34,811.74 195.4,810.83 195.45,818.14 195.51,824.75 195.57,804 195.62,801.84 195.68,793.93 195.73,802.24 195.79,797.21 195.85,802.55 195.9,799.93 195.96,811.04 196.02,813.75 196.07,814.83 196.13,804.35 196.18,797.28 196.24,815.68 196.3,807.69 196.35,819.25 196.41,819.81 196.46,792.24 196.52,811.38 196.58,804.12 196.63,806.99 196.69,800.55 196.75,808.76 196.8,821.79 196.86,819.78 196.91,803.68 196.97,805.74 197.03,823.58 197.08,796.41 197.14,807.39 197.2,795.45 197.25,809.48 197.31,809.82 197.36,815.55 197.42,826.51 197.48,834.09 197.53,815.17 197.59,821.3 197.64,784.8 197.7,797.28 197.76,804.32 197.81,811.04 197.87,802.97 197.93,807.35 197.98,816.52 198.04,799.27 198.09,809.55 198.15,799.29 198.21,810.49 198.26,801.79 198.32,802.3 198.38,806.47 198.43,804.64 198.49,816.41 198.54,822.85 198.6,783.79 198.66,779.56 198.71,813.54 198.77,830.78 198.82,820.95 198.88,821.83 198.94,810.44 198.99,801.74 199.05,816.02 199.11,813.45 199.16,809.93 199.22,813.95 199.27,802.16 199.33,812.1 199.39,808.48 199.44,792.98 199.5,801.29 199.56,825.83 199.61,803.07 199.67,809.61 199.72,815.36 199.78,814.14 199.84,815.76 199.89,816.89 199.95,806.33 200,819.91 200.06,807 200.12,802.41 200.17,804.85 200.23,803.25 200.29,805.69 200.34,825.69 200.4,826.78 200.45,814.87 200.51,810.52 200.57,806.49 200.62,786.48 200.68,800.54 200.74,781.28 200.79,803.89 200.85,801.93 200.9,822.38 200.96,791.64 201.02,810.15 201.07,836.14 201.13,812.89 201.18,814.85 201.24,813.09 201.3,790.26 201.35,809.87 201.41,812.55 201.47,819.83 201.52,804.39 201.58,808.31 201.63,807.09 201.69,836 201.75,807.67 201.8,824.43 201.86,807.68 201.92,817.19 201.97,807.42 202.03,787.49 202.08,807.83 202.14,790.89 202.2,788.19 202.25,804.73 202.31,814.62 202.37,817.68 202.42,811.9 202.48,810.95 202.53,803.86 202.59,803.56 202.65,804.03 202.7,809.41 202.76,806.07 202.81,809.46 202.87,791 202.93,811.5 202.98,812.4 203.04,835.74 203.1,826.11 203.15,810.48 203.21,805.69 203.26,807.95 203.32,815.27 203.38,794.17 203.43,795.96 203.49,828 203.55,811.15 203.6,796.8 203.66,793.68 203.71,805.72 203.77,801.1 203.83,818.04 203.88,803.76 203.94,805.04 203.99,791.08 204.05,819.32 204.11,802.4 204.16,803.52 204.22,805.87 204.28,805.51 204.33,804.08 204.39,812.51 204.44,794.84 204.5,815.91 204.56,813.52 204.61,797.09 204.67,811.72 204.73,803.59 204.78,814.27 204.84,809.74 204.89,787.66 204.95,806.3 205.01,814.36 205.06,804.44 205.12,806.19 205.17,813.57 205.23,810.67 205.29,818.93 205.34,813.5 205.4,824.94 205.46,801.25 205.51,796.05 205.57,815.34 205.62,821.82 205.68,792.72 205.74,811.21 205.79,796.36 205.85,810.92 205.91,808.27 205.96,823.04 206.02,811.57 206.07,810.8 206.13,802.48 206.19,807.54 206.24,810.72 206.3,800.68 206.35,817.58 206.41,804.73 206.47,816.75 206.52,817.76 206.58,797.26 206.64,813.96 206.69,811.08 206.75,804.49 206.8,797.1 206.86,816.02 206.92,798.85 206.97,807.09 207.03,787.97 207.09,823.54 207.14,792.91 207.2,820.76 207.25,812.37 207.31,798.48 207.37,817.99 207.42,813.79 207.48,805.66 207.53,780.8 207.59,812.65 207.65,815.46 207.7,808.58 207.76,806.65 207.82,801.9 207.87,808.51 207.93,799.79 207.98,797.85 208.04,808.4 208.1,798.04 208.15,804.38 208.21,809.93 208.27,806.74 208.32,826.73 208.38,795.69 208.43,804.74 208.49,799.11 208.55,815.49 208.6,798.38 208.66,791.39 208.71,797.72 208.77,796.64 208.83,802.46 208.88,804.29 208.94,798.93 209,802.02 209.05,792.73 209.11,809.61 209.16,807.67 209.22,794.05 209.28,805.72 209.33,801.74 209.39,813.42 209.45,805.85 209.5,803.72 209.56,792.04 209.61,799.29 209.67,806.03 209.73,799.75 209.78,796.65 209.84,791.14 209.89,792.22 209.95,809.07 210.01,804.46 210.06,812.61 210.12,813.64 210.18,797.45 210.23,831.73 210.29,806.49 210.34,802.56 210.4,793.36 210.46,810.69 210.51,814.75 210.57,818.86 210.63,828.38 210.68,800.91 210.74,816.78 210.79,819.53 210.85,831.32 210.91,825.84 210.96,839.17 211.02,809.31 211.07,814.52 211.13,807.42 211.19,828.59 211.24,809.13 211.3,796.62 211.36,803.5 211.41,788.14 211.47,783.02 211.52,828.21 211.58,815.43 211.64,811.04 211.69,795.38 211.75,848.55 211.81,804.34 211.86,796.44 211.92,830.02 211.97,796.04 212.03,815.03 212.09,803.85 212.14,809.27 212.2,794.8 212.25,796.37 212.31,804.37 212.37,806.62 212.42,795.22 212.48,807.22 212.54,806.18 212.59,811.45 212.65,776.98 212.7,811.88 212.76,795.24 212.82,807.21 212.87,818.17 212.93,811.9 212.99,799.87 213.04,793 213.1,811.56 213.15,809.71 213.21,809.94 213.27,844.37 213.32,798.55 213.38,807.09 213.43,788.43 213.49,808.57 213.55,795.28 213.6,779.33 213.66,786.75 213.72,796.56 213.77,799.9 213.83,773.85 213.88,783.14 213.94,782.95 214,793.29 214.05,804.17 214.11,800.81 214.17,810.44 214.22,792.44 214.28,795.91 214.33,788.21 214.39,782.28 214.45,783.05 214.5,784.1 214.56,799.06 214.62,797.81 214.67,800.02 214.73,786.38 214.78,792.6 214.84,756.94 214.9,802.2 214.95,766.17 215.01,804.26 215.06,779.45 215.12,780.45 215.18,825.25 215.23,798.79 215.29,772.95 215.35,805.24 215.4,785.62 215.46,792.47 215.51,781.35 215.57,769.3 215.63,778.02 215.68,779.3 215.74,797.6 215.8,782.83 215.85,785.55 215.91,776.21 215.96,816.23 216.02,788.41 216.08,787.15 216.13,777.65 216.19,770.33 216.24,790.9 216.3,807.61 216.36,777.25 216.41,777.15 216.47,782.29 216.53,780.44 216.58,799.61 216.64,781.3 216.69,770.79 216.75,786.37 216.81,789.52 216.86,790.98 216.92,784.61 216.98,797.03 217.03,781.47 217.09,772.72 217.14,796 217.2,777.77 217.26,787.87 217.31,783.31 217.37,785.24 217.42,779.21 217.48,799.48 217.54,788.85 217.59,778.64 217.65,779.63 217.71,776.58 217.76,780.15 217.82,797.92 217.87,774.87 217.93,789.81 217.99,779.48 218.04,768.54 218.1,789.2 218.16,780.48 218.21,774.67 218.27,791.94 218.32,784.93 218.38,789.51 218.44,779.57 218.49,770.93 218.55,771.72 218.6,773.18 218.66,781.21 218.72,772.35 218.77,788.47 218.83,773.6 218.89,793.33 218.94,774 219,786.12 219.05,785.73 219.11,776.13 219.17,795.38 219.22,789.98 219.28,801.24 219.34,777.39 219.39,798.69 219.45,781.17 219.5,790.02 219.56,784.16 219.62,784.52 219.67,790.9 219.73,778.68 219.78,781.63 219.84,762.5 219.9,789.19 219.95,784.06 220.01,773.52 220.07,777.41 220.12,782.46 220.18,787.94 220.23,786.04 220.29,766.39 220.35,775.14 220.4,783.43 220.46,773.85 220.52,772.49 220.57,768.08 220.63,779.55 220.68,809.18 220.74,775.08 220.8,794.96 220.85,778.39 220.91,766.34 220.96,780.76 221.02,781.68 221.08,781.82 221.13,784.5 221.19,784.5 221.25,784.03 221.3,781.69 221.36,778 221.41,788.34 221.47,783.82 221.53,777.89 221.58,786.69 221.64,777.65 221.7,799.64 221.75,789.67 221.81,792.66 221.86,782.87 221.92,787.02 221.98,776.85 222.03,775.18 222.09,784.55 222.14,782.49 222.2,787.22 222.26,792.03 222.31,796.08 222.37,769.38 222.43,788.03 222.48,782.88 222.54,790.84 222.59,795.29 222.65,774.45 222.71,789.03 222.76,778.39 222.82,780.96 222.88,772.46 222.93,785.54 222.99,778.86 223.04,779.98 223.1,778.54 223.16,779.16 223.21,794.73 223.27,791.2 223.32,779.96 223.38,788.7 223.44,779.44 223.49,786.8 223.55,780.01 223.61,778.42 223.66,792.36 223.72,765.77 223.77,792.64 223.83,798.29 223.89,786.56 223.94,781.85 224,787.56 224.06,790.38 224.11,786.14 224.17,781.46 224.22,792.68 224.28,778.77 224.34,785.21 224.39,795.41 224.45,787.67 224.5,790.16 224.56,782.14 224.62,783.49 224.67,774.81 224.73,763.09 224.79,779.53 224.84,789.69 224.9,785.32 224.95,812.6 225.01,786.11 225.07,796.75 225.12,786.82 225.18,790.66 225.24,789.9 225.29,790.36 225.35,779.86 225.4,780.01 225.46,790.85 225.52,794.56 225.57,790.01 225.63,793 225.69,788.3 225.74,796.08 225.8,785.91 225.85,779.03 225.91,792.37 225.97,781.66 226.02,792.83 226.08,793.62 226.13,792.11 226.19,792.42 226.25,798.2 226.3,784.04 226.36,788.77 226.42,808.87 226.47,786.06 226.53,810.88 226.58,802.19 226.64,808.55 226.7,795.46 226.75,803.35 226.81,787.8 226.87,790.53 226.92,810.44 226.98,796.64 227.03,823.25 227.09,806.91 227.15,800.32 227.2,796.76 227.26,783.47 227.31,801.92 227.37,792.58 227.43,811.9 227.48,800.81 227.54,801.83 227.6,805.32 227.65,815.06 227.71,819.85 227.76,792.18 227.82,798.29 227.88,808.52 227.93,805.53 227.99,803.6 228.05,806.66 228.1,821.67 228.16,804.13 228.21,806.95 228.27,829.01 228.33,807.69 228.38,813.72 228.44,817.63 228.49,812.13 228.55,812.32 228.61,804.71 228.66,807.63 228.72,812.43 228.78,829.8 228.83,807.07 228.89,824.29 228.94,832.87 229,829.15 229.06,826.24 229.11,821.62 229.17,836.07 229.23,825.28 229.28,826.19 229.34,830 229.39,833.14 229.45,836.81 229.51,829.4 229.56,829.61 229.62,833.03 229.67,836.81 229.73,824.23 229.79,850.65 229.84,840.29 229.9,847.24 229.96,834.48 230.01,839.78 230.07,844.97 230.12,860.74 230.18,843.85 230.24,855.2 230.29,854.01 230.35,861.94 230.41,843.87 230.46,856.53 230.52,851.88 230.57,862.64 230.63,858 230.69,859 230.74,862.44 230.8,855.57 230.85,862.81 230.91,852.56 230.97,850.58 231.02,849.4 231.08,842.44 231.14,846.81 231.19,849.84 231.25,853.11 231.3,846.31 231.36,852.77 231.42,837.95 231.47,840.98 231.53,842.52 231.59,838.3 231.64,840.86 231.7,834.55 231.75,832.35 231.81,832.1 231.87,831.12 231.92,838.12 231.98,835.07 232.03,832.91 232.09,846.34 232.15,836.4 232.2,845.67 232.26,833.14 232.32,831.6 232.37,841.21 232.43,824.36 232.48,818.24 232.54,817.68 232.6,837.53 232.65,829.95 232.71,831.89 232.77,826.01 232.82,793.19 232.88,818.75 232.93,820.69 232.99,829.7 233.05,808.63 233.1,833.71 233.16,821.06 233.21,821.46 233.27,814.56 233.33,818.94 233.38,826.77 233.44,824.52 233.5,806.87 233.55,821.47 233.61,811.06 233.66,818.4 233.72,809.4 233.78,828.8 233.83,822.28 233.89,837.94 233.95,837.48 234,835.78 234.06,821.24 234.11,829.13 234.17,806.64 234.23,786.8 234.28,805.79 234.34,833.57 234.39,827.7 234.45,809.08 234.51,804.63 234.56,813.49 234.62,812.28 234.68,816.87 234.73,834.04 234.79,822.87 234.84,810.24 234.9,832.21 234.96,798.87 235.01,831.39 235.07,812.49 235.13,805.54 235.18,822.38 235.24,811.41 235.29,853.12 235.35,805.21 235.41,828.76 235.46,806.32 235.52,823.38 235.57,806.04 235.63,807.13 235.69,815.33 235.74,834.45 235.8,820.71 235.86,822.48 235.91,831.37 235.97,800.93 236.02,811.95 236.08,805.75 236.14,824.56 236.19,822.19 236.25,812.19 236.31,808.7 236.36,807.56 236.42,819.09 236.47,820.4 236.53,826.12 236.59,805.58 236.64,814.95 236.7,814.49 236.75,791.17 236.81,812.39 236.87,814.13 236.92,817.93 236.98,800.4 237.04,812.09 237.09,802.49 237.15,830.2 237.2,842.43 237.26,796.8 237.32,825.14 237.37,843.19 237.43,825.12 237.49,847.36 237.54,833.02 237.6,834.4 237.65,830.53 237.71,835.13 237.77,809.09 237.82,818.76 237.88,815.54 237.94,811.99 237.99,813.79 238.05,819.05 238.1,831.85 238.16,825.47 238.22,839.29 238.27,822.86 238.33,829.13 238.38,821.04 238.44,818.98 238.5,807.87 238.55,801.58 238.61,827.88 238.67,830.41 238.72,809.62 238.78,811.05 238.83,833.11 238.89,808.63 238.95,816.2 239,813.49 239.06,816.56 239.12,781 239.17,810.32 239.23,803.01 239.28,817.51 239.34,816.84 239.4,819.98 239.45,830.21 239.51,798.69 239.56,818.9 239.62,826.62 239.68,814.82 239.73,807.58 239.79,813.34 239.85,809.32 239.9,820.43 239.96,838.73 240.01,807.38 240.07,810.45 240.13,807.82 240.18,827.04 240.24,824.2 240.3,816.85 240.35,828.35 240.41,832.15 240.46,809.49 240.52,817.99 240.58,821.51 240.63,800.67 240.69,809.94 240.74,810.84 240.8,823.46 240.86,827.28 240.91,820.96 240.97,818.28 241.03,789.98 241.08,826.04 241.14,812.61 241.19,826.31 241.25,815.73 241.31,824.11 241.36,806.83 241.42,827.08 241.48,815.2 241.53,800.33 241.59,817.62 241.64,795.81 241.7,794.43 241.76,833.58 241.81,818.23 241.87,816.66 241.92,812.21 241.98,826.49 242.04,826.33 242.09,811.51 242.15,800.51 242.21,806.46 242.26,815.57 242.32,831.42 242.37,812.9 242.43,841.78 242.49,799.91 242.54,819.24 242.6,825.36 242.66,797.27 242.71,824.91 242.77,813.96 242.82,813.45 242.88,813.62" fill="none" stroke="#0a69ae" stroke-width="0.7" stroke-linejoin="bevel"/></g>
<line x1="57.4" y1="710.6" x2="57.4" y2="807.9" stroke="#5fa3d6" stroke-width="0.7" />
<rect x="42.4" y="710.6" width="225.3" height="180.9" fill="none" stroke="#222" stroke-width="1" />
<line x1="57.5" y1="891.5" x2="57.5" y2="895.1" stroke="#222" stroke-width="1" />
<text x="57.5" y="907" font-size="11" text-anchor="middle" fill="#111" >0</text>
<line x1="87.4" y1="891.5" x2="87.4" y2="895.1" stroke="#222" stroke-width="1" />
<text x="87.4" y="907" font-size="11" text-anchor="middle" fill="#111" >5</text>
<line x1="117.3" y1="891.5" x2="117.3" y2="895.1" stroke="#222" stroke-width="1" />
<text x="117.3" y="907" font-size="11" text-anchor="middle" fill="#111" >10</text>
<line x1="147.2" y1="891.5" x2="147.2" y2="895.1" stroke="#222" stroke-width="1" />
<text x="147.2" y="907" font-size="11" text-anchor="middle" fill="#111" >15</text>
<line x1="177.1" y1="891.5" x2="177.1" y2="895.1" stroke="#222" stroke-width="1" />
<text x="177.1" y="907" font-size="11" text-anchor="middle" fill="#111" >20</text>
<line x1="207" y1="891.5" x2="207" y2="895.1" stroke="#222" stroke-width="1" />
<text x="207" y="907" font-size="11" text-anchor="middle" fill="#111" >25</text>
<line x1="236.9" y1="891.5" x2="236.9" y2="895.1" stroke="#222" stroke-width="1" />
<text x="236.9" y="907" font-size="11" text-anchor="middle" fill="#111" >30</text>
<line x1="266.8" y1="891.5" x2="266.8" y2="895.1" stroke="#222" stroke-width="1" />
<text x="266.8" y="907" font-size="11" text-anchor="middle" fill="#111" >35</text>
<line x1="42.55" y1="891.5" x2="42.55" y2="893.4" stroke="#222" stroke-width="1" />
<line x1="72.45" y1="891.5" x2="72.45" y2="893.4" stroke="#222" stroke-width="1" />
<line x1="102.35" y1="891.5" x2="102.35" y2="893.4" stroke="#222" stroke-width="1" />
<line x1="132.25" y1="891.5" x2="132.25" y2="893.4" stroke="#222" stroke-width="1" />
<line x1="162.15" y1="891.5" x2="162.15" y2="893.4" stroke="#222" stroke-width="1" />
<line x1="192.05" y1="891.5" x2="192.05" y2="893.4" stroke="#222" stroke-width="1" />
<line x1="221.95" y1="891.5" x2="221.95" y2="893.4" stroke="#222" stroke-width="1" />
<line x1="251.85" y1="891.5" x2="251.85" y2="893.4" stroke="#222" stroke-width="1" />
<line x1="42.4" y1="877.4" x2="38.8" y2="877.4" stroke="#222" stroke-width="1" />
<text x="36.6" y="881.3" font-size="11" text-anchor="end" fill="#111" >0</text>
<line x1="42.4" y1="849.6" x2="38.8" y2="849.6" stroke="#222" stroke-width="1" />
<text x="36.6" y="853.5" font-size="11" text-anchor="end" fill="#111" >2</text>
<line x1="42.4" y1="821.8" x2="38.8" y2="821.8" stroke="#222" stroke-width="1" />
<text x="36.6" y="825.7" font-size="11" text-anchor="end" fill="#111" >4</text>
<line x1="42.4" y1="794" x2="38.8" y2="794" stroke="#222" stroke-width="1" />
<text x="36.6" y="797.9" font-size="11" text-anchor="end" fill="#111" >6</text>
<line x1="42.4" y1="766.2" x2="38.8" y2="766.2" stroke="#222" stroke-width="1" />
<text x="36.6" y="770.1" font-size="11" text-anchor="end" fill="#111" >8</text>
<line x1="42.4" y1="738.4" x2="38.8" y2="738.4" stroke="#222" stroke-width="1" />
<text x="36.6" y="742.3" font-size="11" text-anchor="end" fill="#111" >10</text>
<line x1="42.4" y1="710.6" x2="38.8" y2="710.6" stroke="#222" stroke-width="1" />
<text x="36.6" y="714.5" font-size="11" text-anchor="end" fill="#111" >12</text>
<line x1="42.4" y1="891.3" x2="40.5" y2="891.3" stroke="#222" stroke-width="1" />
<line x1="42.4" y1="863.5" x2="40.5" y2="863.5" stroke="#222" stroke-width="1" />
<line x1="42.4" y1="835.7" x2="40.5" y2="835.7" stroke="#222" stroke-width="1" />
<line x1="42.4" y1="807.9" x2="40.5" y2="807.9" stroke="#222" stroke-width="1" />
<line x1="42.4" y1="780.1" x2="40.5" y2="780.1" stroke="#222" stroke-width="1" />
<line x1="42.4" y1="752.3" x2="40.5" y2="752.3" stroke="#222" stroke-width="1" />
<line x1="42.4" y1="724.5" x2="40.5" y2="724.5" stroke="#222" stroke-width="1" />
<text x="95.6" y="928.8" font-size="14.3" text-anchor="start" fill="#111" ><tspan dy="0" font-size="14.3">Engineering strain </tspan><tspan dy="0" font-size="14.3" font-style="italic">ε</tspan><tspan dy="3.15" font-size="10.01" font-style="italic">e</tspan></text>
<text x="0" y="0" font-size="14.5" text-anchor="start" fill="#111" transform="translate(10.9,870.4) rotate(-90)"><tspan dy="0" font-size="14.5">Derivative stress d</tspan><tspan dy="0" font-size="14.5" font-style="italic">σ</tspan><tspan dy="3.19" font-size="10.15" font-style="italic">e</tspan><tspan dy="-3.19" font-size="14.5">/d</tspan><tspan dy="0" font-size="14.5" font-style="italic">ε</tspan><tspan dy="3.19" font-size="10.15" font-style="italic">e</tspan></text>
</g>
<g id="panel_f">
<text x="318" y="692.8" font-size="16.5" text-anchor="start" fill="#000" font-weight="bold">f</text>
<rect x="366.4" y="822" width="76.6" height="69.5" fill="#dcedf9" stroke="none" stroke-width="1" />
<rect x="443" y="822" width="196.4" height="69.5" fill="#fbe4e2" stroke="none" stroke-width="1" />
<rect x="511" y="710.6" width="128.4" height="111.4" fill="#fbe4e2" stroke="none" stroke-width="1" />
<line x1="465.6" y1="822" x2="465.6" y2="891.5" stroke="#eccac8" stroke-width="0.6" stroke-dasharray="1 1"/>
<line x1="490.4" y1="822" x2="490.4" y2="891.5" stroke="#eccac8" stroke-width="0.6" stroke-dasharray="1 1"/>
<line x1="515.2" y1="710.6" x2="515.2" y2="891.5" stroke="#eccac8" stroke-width="0.6" stroke-dasharray="1 1"/>
<line x1="540" y1="710.6" x2="540" y2="891.5" stroke="#eccac8" stroke-width="0.6" stroke-dasharray="1 1"/>
<line x1="564.8" y1="710.6" x2="564.8" y2="891.5" stroke="#eccac8" stroke-width="0.6" stroke-dasharray="1 1"/>
<line x1="589.6" y1="710.6" x2="589.6" y2="891.5" stroke="#eccac8" stroke-width="0.6" stroke-dasharray="1 1"/>
<line x1="614.4" y1="710.6" x2="614.4" y2="891.5" stroke="#eccac8" stroke-width="0.6" stroke-dasharray="1 1"/>
<line x1="639.2" y1="710.6" x2="639.2" y2="891.5" stroke="#eccac8" stroke-width="0.6" stroke-dasharray="1 1"/>
<line x1="443" y1="861.35" x2="639.4" y2="861.35" stroke="#eccac8" stroke-width="0.6" stroke-dasharray="1 1"/>
<line x1="443" y1="831.2" x2="639.4" y2="831.2" stroke="#eccac8" stroke-width="0.6" stroke-dasharray="1 1"/>
<line x1="511" y1="801.05" x2="639.4" y2="801.05" stroke="#eccac8" stroke-width="0.6" stroke-dasharray="1 1"/>
<line x1="511" y1="770.9" x2="639.4" y2="770.9" stroke="#eccac8" stroke-width="0.6" stroke-dasharray="1 1"/>
<line x1="511" y1="740.75" x2="639.4" y2="740.75" stroke="#eccac8" stroke-width="0.6" stroke-dasharray="1 1"/>
<line x1="511" y1="725.67" x2="639.4" y2="725.67" stroke="#eccac8" stroke-width="0.6" stroke-dasharray="1 1"/>
<line x1="391.2" y1="822" x2="391.2" y2="891.5" stroke="#c2dcee" stroke-width="0.6" stroke-dasharray="1 1"/>
<line x1="416" y1="822" x2="416" y2="891.5" stroke="#c2dcee" stroke-width="0.6" stroke-dasharray="1 1"/>
<line x1="440.8" y1="822" x2="440.8" y2="891.5" stroke="#c2dcee" stroke-width="0.6" stroke-dasharray="1 1"/>
<line x1="366.4" y1="861.35" x2="443" y2="861.35" stroke="#c2dcee" stroke-width="0.6" stroke-dasharray="1 1"/>
<line x1="366.4" y1="831.2" x2="443" y2="831.2" stroke="#c2dcee" stroke-width="0.6" stroke-dasharray="1 1"/>
<clipPath id="cf"><rect x="366.4" y="710.6" width="273" height="180.9"/></clipPath>
<g clip-path="url(#cf)"><polygon points="362.27,891.88 368.46,887.75 368.46,895.25" fill="none" stroke="#4c92d2" stroke-width="0.85" stroke-linejoin="round"/><polygon points="362.53,891.64 368.72,887.52 368.72,895.02" fill="none" stroke="#4c92d2" stroke-width="0.85" stroke-linejoin="round"/><polygon points="362.81,891.41 369,887.28 369,894.78" fill="none" stroke="#4c92d2" stroke-width="0.85" stroke-linejoin="round"/><polygon points="363.14,891.2 369.33,887.08 369.33,894.58" fill="none" stroke="#4c92d2" stroke-width="0.85" stroke-linejoin="round"/><polygon points="363.52,891.02 369.7,886.9 369.7,894.4" fill="none" stroke="#4c92d2" stroke-width="0.85" stroke-linejoin="round"/><polygon points="363.94,890.85 370.13,886.72 370.13,894.22" fill="none" stroke="#4c92d2" stroke-width="0.85" stroke-linejoin="round"/><polygon points="364.42,890.67 370.61,886.55 370.61,894.05" fill="none" stroke="#4c92d2" stroke-width="0.85" stroke-linejoin="round"/><polygon points="364.95,890.47 371.14,886.35 371.14,893.85" fill="none" stroke="#4c92d2" stroke-width="0.85" stroke-linejoin="round"/><polygon points="365.54,890.27 371.72,886.14 371.72,893.64" fill="none" stroke="#4c92d2" stroke-width="0.85" stroke-linejoin="round"/><polygon points="366.18,890.05 372.36,885.93 372.36,893.43" fill="none" stroke="#4c92d2" stroke-width="0.85" stroke-linejoin="round"/><polygon points="366.87,889.82 373.05,885.7 373.05,893.2" fill="none" stroke="#4c92d2" stroke-width="0.85" stroke-linejoin="round"/><polygon points="367.61,889.58 373.8,885.45 373.8,892.95" fill="none" stroke="#4c92d2" stroke-width="0.85" stroke-linejoin="round"/><polygon points="368.42,889.32 374.6,885.2 374.6,892.7" fill="none" stroke="#4c92d2" stroke-width="0.85" stroke-linejoin="round"/><polygon points="369.27,889.05 375.46,884.92 375.46,892.42" fill="none" stroke="#4c92d2" stroke-width="0.85" stroke-linejoin="round"/><polygon points="370.18,888.76 376.37,884.64 376.37,892.14" fill="none" stroke="#4c92d2" stroke-width="0.85" stroke-linejoin="round"/><polygon points="371.15,888.46 377.33,884.34 377.33,891.84" fill="none" stroke="#4c92d2" stroke-width="0.85" stroke-linejoin="round"/><polygon points="372.17,888.15 378.35,884.02 378.35,891.52" fill="none" stroke="#4c92d2" stroke-width="0.85" stroke-linejoin="round"/><polygon points="373.24,887.81 379.43,883.69 379.43,891.19" fill="none" stroke="#4c92d2" stroke-width="0.85" stroke-linejoin="round"/><polygon points="374.37,887.46 380.56,883.34 380.56,890.84" fill="none" stroke="#4c92d2" stroke-width="0.85" stroke-linejoin="round"/><polygon points="375.56,887.1 381.74,882.98 381.74,890.48" fill="none" stroke="#4c92d2" stroke-width="0.85" stroke-linejoin="round"/><polygon points="376.79,886.73 382.98,882.61 382.98,890.11" fill="none" stroke="#4c92d2" stroke-width="0.85" stroke-linejoin="round"/><polygon points="378.09,886.36 384.28,882.23 384.28,889.73" fill="none" stroke="#4c92d2" stroke-width="0.85" stroke-linejoin="round"/><polygon points="379.44,885.98 385.62,881.85 385.62,889.35" fill="none" stroke="#4c92d2" stroke-width="0.85" stroke-linejoin="round"/><polygon points="380.84,885.59 387.03,881.47 387.03,888.97" fill="none" stroke="#4c92d2" stroke-width="0.85" stroke-linejoin="round"/><polygon points="382.3,885.19 388.49,881.07 388.49,888.57" fill="none" stroke="#4c92d2" stroke-width="0.85" stroke-linejoin="round"/><polygon points="383.81,884.78 390,880.66 390,888.16" fill="none" stroke="#4c92d2" stroke-width="0.85" stroke-linejoin="round"/><polygon points="385.38,884.37 391.57,880.24 391.57,887.74" fill="none" stroke="#4c92d2" stroke-width="0.85" stroke-linejoin="round"/><polygon points="387.01,883.93 393.19,879.81 393.19,887.31" fill="none" stroke="#4c92d2" stroke-width="0.85" stroke-linejoin="round"/><polygon points="388.68,883.48 394.87,879.36 394.87,886.86" fill="none" stroke="#4c92d2" stroke-width="0.85" stroke-linejoin="round"/><polygon points="390.42,883.02 396.6,878.89 396.6,886.39" fill="none" stroke="#4c92d2" stroke-width="0.85" stroke-linejoin="round"/><polygon points="392.21,882.54 398.39,878.42 398.39,885.92" fill="none" stroke="#4c92d2" stroke-width="0.85" stroke-linejoin="round"/><polygon points="394.05,882.05 400.24,877.93 400.24,885.43" fill="none" stroke="#4c92d2" stroke-width="0.85" stroke-linejoin="round"/><polygon points="395.95,881.55 402.14,877.43 402.14,884.93" fill="none" stroke="#4c92d2" stroke-width="0.85" stroke-linejoin="round"/><polygon points="397.9,881.03 404.09,876.91 404.09,884.41" fill="none" stroke="#4c92d2" stroke-width="0.85" stroke-linejoin="round"/><polygon points="399.91,880.49 406.1,876.37 406.1,883.87" fill="none" stroke="#4c92d2" stroke-width="0.85" stroke-linejoin="round"/><polygon points="401.97,879.93 408.16,875.81 408.16,883.31" fill="none" stroke="#4c92d2" stroke-width="0.85" stroke-linejoin="round"/><polygon points="404.09,879.35 410.28,875.23 410.28,882.73" fill="none" stroke="#4c92d2" stroke-width="0.85" stroke-linejoin="round"/><polygon points="406.26,878.74 412.45,874.62 412.45,882.12" fill="none" stroke="#4c92d2" stroke-width="0.85" stroke-linejoin="round"/><polygon points="408.49,878.1 414.68,873.98 414.68,881.48" fill="none" stroke="#4c92d2" stroke-width="0.85" stroke-linejoin="round"/><polygon points="410.78,877.43 416.96,873.31 416.96,880.81" fill="none" stroke="#4c92d2" stroke-width="0.85" stroke-linejoin="round"/><polygon points="413.11,876.72 419.3,872.6 419.3,880.1" fill="none" stroke="#4c92d2" stroke-width="0.85" stroke-linejoin="round"/><polygon points="415.51,875.97 421.69,871.85 421.69,879.35" fill="none" stroke="#4c92d2" stroke-width="0.85" stroke-linejoin="round"/><polygon points="417.95,875.18 424.14,871.06 424.14,878.56" fill="none" stroke="#4c92d2" stroke-width="0.85" stroke-linejoin="round"/><polygon points="420.46,874.35 426.64,870.23 426.64,877.73" fill="none" stroke="#4c92d2" stroke-width="0.85" stroke-linejoin="round"/><polygon points="423.02,873.49 429.2,869.36 429.2,876.86" fill="none" stroke="#4c92d2" stroke-width="0.85" stroke-linejoin="round"/><polygon points="425.63,872.59 431.82,868.46 431.82,875.96" fill="none" stroke="#4c92d2" stroke-width="0.85" stroke-linejoin="round"/><polygon points="428.3,871.66 434.48,867.53 434.48,875.03" fill="none" stroke="#4c92d2" stroke-width="0.85" stroke-linejoin="round"/><polygon points="431.02,870.71 437.21,866.58 437.21,874.08" fill="none" stroke="#4c92d2" stroke-width="0.85" stroke-linejoin="round"/><polygon points="433.8,869.73 439.99,865.61 439.99,873.11" fill="none" stroke="#4c92d2" stroke-width="0.85" stroke-linejoin="round"/><polygon points="436.63,868.75 442.82,864.62 442.82,872.12" fill="none" stroke="#4c92d2" stroke-width="0.85" stroke-linejoin="round"/><polygon points="439.52,867.75 445.71,863.63 445.71,871.13" fill="none" stroke="#4c92d2" stroke-width="0.85" stroke-linejoin="round"/><polygon points="442.46,866.75 448.65,862.63 448.65,870.13" fill="none" stroke="#4c92d2" stroke-width="0.85" stroke-linejoin="round"/><polygon points="445.46,865.73 451.65,861.6 451.65,869.1" fill="none" stroke="#4c92d2" stroke-width="0.85" stroke-linejoin="round"/><polygon points="448.51,864.65 454.7,860.52 454.7,868.02" fill="none" stroke="#4c92d2" stroke-width="0.85" stroke-linejoin="round"/><polygon points="451.62,863.5 457.81,859.38 457.81,866.88" fill="none" stroke="#4c92d2" stroke-width="0.85" stroke-linejoin="round"/><polygon points="454.78,862.32 460.97,858.2 460.97,865.7" fill="none" stroke="#4c92d2" stroke-width="0.85" stroke-linejoin="round"/><polygon points="458,861.04 464.19,856.92 464.19,864.42" fill="none" stroke="#4c92d2" stroke-width="0.85" stroke-linejoin="round"/><polygon points="461.27,859.59 467.46,855.46 467.46,862.96" fill="none" stroke="#4c92d2" stroke-width="0.85" stroke-linejoin="round"/><polygon points="464.6,857.87 470.79,853.75 470.79,861.25" fill="none" stroke="#4c92d2" stroke-width="0.85" stroke-linejoin="round"/><polygon points="467.99,855.89 474.17,851.76 474.17,859.26" fill="none" stroke="#4c92d2" stroke-width="0.85" stroke-linejoin="round"/><polygon points="471.42,853.7 477.61,849.57 477.61,857.07" fill="none" stroke="#4c92d2" stroke-width="0.85" stroke-linejoin="round"/><polygon points="474.92,851.37 481.1,847.24 481.1,854.74" fill="none" stroke="#4c92d2" stroke-width="0.85" stroke-linejoin="round"/><polygon points="478.46,848.79 484.65,844.66 484.65,852.16" fill="none" stroke="#4c92d2" stroke-width="0.85" stroke-linejoin="round"/><polygon points="482.07,846.01 488.25,841.88 488.25,849.38" fill="none" stroke="#4c92d2" stroke-width="0.85" stroke-linejoin="round"/><polygon points="485.72,843.15 491.91,839.03 491.91,846.53" fill="none" stroke="#4c92d2" stroke-width="0.85" stroke-linejoin="round"/><polygon points="489.44,840.28 495.62,836.15 495.62,843.65" fill="none" stroke="#4c92d2" stroke-width="0.85" stroke-linejoin="round"/><polygon points="493.21,837.31 499.39,833.19 499.39,840.69" fill="none" stroke="#4c92d2" stroke-width="0.85" stroke-linejoin="round"/><polygon points="497.03,834.34 503.22,830.21 503.22,837.71" fill="none" stroke="#4c92d2" stroke-width="0.85" stroke-linejoin="round"/><polygon points="500.91,831.43 507.09,827.31 507.09,834.81" fill="none" stroke="#4c92d2" stroke-width="0.85" stroke-linejoin="round"/><polygon points="504.84,828.61 511.03,824.49 511.03,831.99" fill="none" stroke="#4c92d2" stroke-width="0.85" stroke-linejoin="round"/><polygon points="508.83,825.73 515.01,821.61 515.01,829.11" fill="none" stroke="#4c92d2" stroke-width="0.85" stroke-linejoin="round"/><polygon points="512.87,822.65 519.06,818.52 519.06,826.02" fill="none" stroke="#4c92d2" stroke-width="0.85" stroke-linejoin="round"/><polygon points="516.97,819.39 523.16,815.27 523.16,822.77" fill="none" stroke="#4c92d2" stroke-width="0.85" stroke-linejoin="round"/><polygon points="521.12,816.01 527.31,811.88 527.31,819.38" fill="none" stroke="#4c92d2" stroke-width="0.85" stroke-linejoin="round"/><polygon points="525.33,812.5 531.52,808.38 531.52,815.88" fill="none" stroke="#4c92d2" stroke-width="0.85" stroke-linejoin="round"/><polygon points="529.59,808.9 535.78,804.78 535.78,812.28" fill="none" stroke="#4c92d2" stroke-width="0.85" stroke-linejoin="round"/><polygon points="533.91,805.22 540.1,801.09 540.1,808.59" fill="none" stroke="#4c92d2" stroke-width="0.85" stroke-linejoin="round"/><polygon points="538.28,801.46 544.47,797.33 544.47,804.83" fill="none" stroke="#4c92d2" stroke-width="0.85" stroke-linejoin="round"/><polygon points="542.71,797.57 548.9,793.45 548.9,800.95" fill="none" stroke="#4c92d2" stroke-width="0.85" stroke-linejoin="round"/><polygon points="547.19,793.58 553.38,789.45 553.38,796.95" fill="none" stroke="#4c92d2" stroke-width="0.85" stroke-linejoin="round"/><polygon points="551.73,789.51 557.92,785.38 557.92,792.88" fill="none" stroke="#4c92d2" stroke-width="0.85" stroke-linejoin="round"/><polygon points="556.32,785.39 562.51,781.26 562.51,788.76" fill="none" stroke="#4c92d2" stroke-width="0.85" stroke-linejoin="round"/><polygon points="560.97,781.27 567.16,777.14 567.16,784.64" fill="none" stroke="#4c92d2" stroke-width="0.85" stroke-linejoin="round"/><polygon points="565.67,777.14 571.86,773.01 571.86,780.51" fill="none" stroke="#4c92d2" stroke-width="0.85" stroke-linejoin="round"/><polygon points="570.43,772.98 576.62,768.85 576.62,776.35" fill="none" stroke="#4c92d2" stroke-width="0.85" stroke-linejoin="round"/><polygon points="575.24,768.78 581.43,764.65 581.43,772.15" fill="none" stroke="#4c92d2" stroke-width="0.85" stroke-linejoin="round"/><polygon points="580.11,764.53 586.3,760.4 586.3,767.9" fill="none" stroke="#4c92d2" stroke-width="0.85" stroke-linejoin="round"/><polygon points="585.04,760.21 591.22,756.08 591.22,763.58" fill="none" stroke="#4c92d2" stroke-width="0.85" stroke-linejoin="round"/><polygon points="590.01,755.8 596.2,751.68 596.2,759.18" fill="none" stroke="#4c92d2" stroke-width="0.85" stroke-linejoin="round"/><polygon points="595.05,751.32 601.23,747.19 601.23,754.69" fill="none" stroke="#4c92d2" stroke-width="0.85" stroke-linejoin="round"/><polygon points="600.13,746.78 606.32,742.66 606.32,750.16" fill="none" stroke="#4c92d2" stroke-width="0.85" stroke-linejoin="round"/><polygon points="605.28,742.21 611.46,738.09 611.46,745.59" fill="none" stroke="#4c92d2" stroke-width="0.85" stroke-linejoin="round"/><polygon points="610.47,737.63 616.66,733.51 616.66,741.01" fill="none" stroke="#4c92d2" stroke-width="0.85" stroke-linejoin="round"/><polygon points="615.73,733.07 621.91,728.95 621.91,736.45" fill="none" stroke="#4c92d2" stroke-width="0.85" stroke-linejoin="round"/></g>
<line x1="366.4" y1="891.5" x2="622.09" y2="819.62" stroke="#e0625c" stroke-width="1.8" stroke-dasharray="12.2 3.6 2.4 3.6" stroke-dashoffset="2"/>
<line x1="366.4" y1="710.6" x2="443" y2="710.6" stroke="#7d9fc0" stroke-width="1" />
<line x1="443" y1="710.6" x2="639.4" y2="710.6" stroke="#6e4d4d" stroke-width="1" />
<line x1="639.4" y1="710.6" x2="639.4" y2="891.5" stroke="#4a3a3a" stroke-width="1" />
<line x1="366.4" y1="710.6" x2="366.4" y2="891.5" stroke="#222" stroke-width="1" />
<line x1="366.4" y1="891.5" x2="639.4" y2="891.5" stroke="#222" stroke-width="1" />
<line x1="366.4" y1="891.5" x2="366.4" y2="895.5" stroke="#222" stroke-width="1" />
<text x="366.4" y="907.1" font-size="11" text-anchor="middle" fill="#111" >0</text>
<line x1="416" y1="891.5" x2="416" y2="895.5" stroke="#222" stroke-width="1" />
<text x="416" y="907.1" font-size="11" text-anchor="middle" fill="#111" >200</text>
<line x1="465.6" y1="891.5" x2="465.6" y2="895.5" stroke="#222" stroke-width="1" />
<text x="465.6" y="907.1" font-size="11" text-anchor="middle" fill="#111" >400</text>
<line x1="515.2" y1="891.5" x2="515.2" y2="895.5" stroke="#222" stroke-width="1" />
<text x="515.2" y="907.1" font-size="11" text-anchor="middle" fill="#111" >600</text>
<line x1="564.8" y1="891.5" x2="564.8" y2="895.5" stroke="#222" stroke-width="1" />
<text x="564.8" y="907.1" font-size="11" text-anchor="middle" fill="#111" >800</text>
<line x1="614.4" y1="891.5" x2="614.4" y2="895.5" stroke="#222" stroke-width="1" />
<text x="614.4" y="907.1" font-size="11" text-anchor="middle" fill="#111" >1000</text>
<line x1="391.2" y1="891.5" x2="391.2" y2="893.8" stroke="#222" stroke-width="1" />
<line x1="440.8" y1="891.5" x2="440.8" y2="893.8" stroke="#222" stroke-width="1" />
<line x1="490.4" y1="891.5" x2="490.4" y2="893.8" stroke="#222" stroke-width="1" />
<line x1="540" y1="891.5" x2="540" y2="893.8" stroke="#222" stroke-width="1" />
<line x1="589.6" y1="891.5" x2="589.6" y2="893.8" stroke="#222" stroke-width="1" />
<line x1="639.2" y1="891.5" x2="639.2" y2="893.8" stroke="#222" stroke-width="1" />
<line x1="366.4" y1="891.5" x2="362.4" y2="891.5" stroke="#222" stroke-width="1" />
<text x="360.4" y="895.9" font-size="12.4" text-anchor="end" fill="#111" >0</text>
<line x1="366.4" y1="861.35" x2="362.4" y2="861.35" stroke="#222" stroke-width="1" />
<text x="360.4" y="865.75" font-size="12.4" text-anchor="end" fill="#111" >500</text>
<line x1="366.4" y1="831.2" x2="362.4" y2="831.2" stroke="#222" stroke-width="1" />
<text x="360.4" y="835.6" font-size="12.4" text-anchor="end" fill="#111" >1000</text>
<line x1="366.4" y1="801.05" x2="362.4" y2="801.05" stroke="#222" stroke-width="1" />
<text x="360.4" y="805.45" font-size="12.4" text-anchor="end" fill="#111" >1500</text>
<line x1="366.4" y1="770.9" x2="362.4" y2="770.9" stroke="#222" stroke-width="1" />
<text x="360.4" y="775.3" font-size="12.4" text-anchor="end" fill="#111" >2000</text>
<line x1="366.4" y1="740.75" x2="362.4" y2="740.75" stroke="#222" stroke-width="1" />
<text x="360.4" y="745.15" font-size="12.4" text-anchor="end" fill="#111" >2500</text>
<line x1="366.4" y1="710.6" x2="362.4" y2="710.6" stroke="#222" stroke-width="1" />
<text x="360.4" y="715" font-size="12.4" text-anchor="end" fill="#111" >3000</text>
<line x1="366.4" y1="876.42" x2="364.1" y2="876.42" stroke="#222" stroke-width="1" />
<line x1="366.4" y1="846.27" x2="364.1" y2="846.27" stroke="#222" stroke-width="1" />
<line x1="366.4" y1="816.12" x2="364.1" y2="816.12" stroke="#222" stroke-width="1" />
<line x1="366.4" y1="785.98" x2="364.1" y2="785.98" stroke="#222" stroke-width="1" />
<line x1="366.4" y1="755.83" x2="364.1" y2="755.83" stroke="#222" stroke-width="1" />
<line x1="366.4" y1="725.67" x2="364.1" y2="725.67" stroke="#222" stroke-width="1" />
<text x="561.6" y="723.8" font-size="12.6" text-anchor="start" fill="#c23a45" >Crystalline</text>
<text x="371.6" y="858.1" font-size="12.8" text-anchor="start" fill="#2060a8" >Amorphous</text>
<text x="479.2" y="926.4" font-size="13.3" text-anchor="start" fill="#111" ><tspan dy="0" font-size="13.3" font-style="italic">λ</tspan><tspan dy="-4.79" font-size="9.31">2</tspan><tspan dy="4.79" font-size="13.3">-1/</tspan><tspan dy="0" font-size="13.3" font-style="italic">λ</tspan></text>
<text x="0" y="0" font-size="14.6" text-anchor="start" fill="#111" transform="translate(322.4,832.6) rotate(-90)"><tspan dy="0" font-size="14.6" font-style="italic">σ</tspan><tspan dy="3.21" font-size="10.22" font-style="italic">t</tspan><tspan dy="-3.21" font-size="14.6"> (MPa)</tspan></text>
<rect x="366.9" y="711.1" width="144.1" height="110.9" fill="#fff" stroke="none" stroke-width="1" />
<clipPath id="cf2"><rect x="386.6" y="717.4" width="117" height="91.6"/></clipPath>
<g clip-path="url(#cf2)"><polygon points="384.18,809.22 387.81,806.8 387.81,811.2" fill="none" stroke="#4c92d2" stroke-width="0.75" stroke-linejoin="round"/><polygon points="384.77,808.1 388.4,805.68 388.4,810.08" fill="none" stroke="#4c92d2" stroke-width="0.75" stroke-linejoin="round"/><polygon points="385.39,806.96 389.02,804.54 389.02,808.94" fill="none" stroke="#4c92d2" stroke-width="0.75" stroke-linejoin="round"/><polygon points="386.04,805.81 389.67,803.39 389.67,807.79" fill="none" stroke="#4c92d2" stroke-width="0.75" stroke-linejoin="round"/><polygon points="386.74,804.69 390.37,802.27 390.37,806.67" fill="none" stroke="#4c92d2" stroke-width="0.75" stroke-linejoin="round"/><polygon points="387.49,803.66 391.12,801.24 391.12,805.64" fill="none" stroke="#4c92d2" stroke-width="0.75" stroke-linejoin="round"/><polygon points="388.3,802.73 391.93,800.31 391.93,804.71" fill="none" stroke="#4c92d2" stroke-width="0.75" stroke-linejoin="round"/><polygon points="389.17,801.83 392.8,799.41 392.8,803.81" fill="none" stroke="#4c92d2" stroke-width="0.75" stroke-linejoin="round"/><polygon points="390.1,800.96 393.73,798.54 393.73,802.94" fill="none" stroke="#4c92d2" stroke-width="0.75" stroke-linejoin="round"/><polygon points="391.09,800.11 394.72,797.69 394.72,802.09" fill="none" stroke="#4c92d2" stroke-width="0.75" stroke-linejoin="round"/><polygon points="392.14,799.27 395.77,796.85 395.77,801.25" fill="none" stroke="#4c92d2" stroke-width="0.75" stroke-linejoin="round"/><polygon points="393.25,798.43 396.88,796.01 396.88,800.41" fill="none" stroke="#4c92d2" stroke-width="0.75" stroke-linejoin="round"/><polygon points="394.43,797.57 398.06,795.15 398.06,799.55" fill="none" stroke="#4c92d2" stroke-width="0.75" stroke-linejoin="round"/><polygon points="395.67,796.63 399.3,794.21 399.3,798.61" fill="none" stroke="#4c92d2" stroke-width="0.75" stroke-linejoin="round"/><polygon points="396.98,795.64 400.61,793.22 400.61,797.62" fill="none" stroke="#4c92d2" stroke-width="0.75" stroke-linejoin="round"/><polygon points="398.35,794.64 401.98,792.22 401.98,796.62" fill="none" stroke="#4c92d2" stroke-width="0.75" stroke-linejoin="round"/><polygon points="399.79,793.62 403.42,791.2 403.42,795.6" fill="none" stroke="#4c92d2" stroke-width="0.75" stroke-linejoin="round"/><polygon points="401.29,792.58 404.92,790.16 404.92,794.56" fill="none" stroke="#4c92d2" stroke-width="0.75" stroke-linejoin="round"/><polygon points="402.85,791.51 406.48,789.09 406.48,793.49" fill="none" stroke="#4c92d2" stroke-width="0.75" stroke-linejoin="round"/><polygon points="404.48,790.42 408.11,788 408.11,792.4" fill="none" stroke="#4c92d2" stroke-width="0.75" stroke-linejoin="round"/><polygon points="406.18,789.28 409.81,786.86 409.81,791.26" fill="none" stroke="#4c92d2" stroke-width="0.75" stroke-linejoin="round"/><polygon points="407.95,788.09 411.58,785.67 411.58,790.07" fill="none" stroke="#4c92d2" stroke-width="0.75" stroke-linejoin="round"/><polygon points="409.78,786.87 413.41,784.45 413.41,788.85" fill="none" stroke="#4c92d2" stroke-width="0.75" stroke-linejoin="round"/><polygon points="411.67,785.62 415.3,783.2 415.3,787.6" fill="none" stroke="#4c92d2" stroke-width="0.75" stroke-linejoin="round"/><polygon points="413.63,784.33 417.26,781.91 417.26,786.31" fill="none" stroke="#4c92d2" stroke-width="0.75" stroke-linejoin="round"/><polygon points="415.66,783.01 419.29,780.59 419.29,784.99" fill="none" stroke="#4c92d2" stroke-width="0.75" stroke-linejoin="round"/><polygon points="417.75,781.65 421.38,779.23 421.38,783.63" fill="none" stroke="#4c92d2" stroke-width="0.75" stroke-linejoin="round"/><polygon points="419.91,780.26 423.54,777.84 423.54,782.24" fill="none" stroke="#4c92d2" stroke-width="0.75" stroke-linejoin="round"/><polygon points="422.13,778.84 425.76,776.42 425.76,780.82" fill="none" stroke="#4c92d2" stroke-width="0.75" stroke-linejoin="round"/><polygon points="424.43,777.38 428.06,774.96 428.06,779.36" fill="none" stroke="#4c92d2" stroke-width="0.75" stroke-linejoin="round"/><polygon points="426.78,775.88 430.41,773.46 430.41,777.86" fill="none" stroke="#4c92d2" stroke-width="0.75" stroke-linejoin="round"/><polygon points="429.21,774.34 432.84,771.92 432.84,776.32" fill="none" stroke="#4c92d2" stroke-width="0.75" stroke-linejoin="round"/><polygon points="431.7,772.76 435.33,770.34 435.33,774.74" fill="none" stroke="#4c92d2" stroke-width="0.75" stroke-linejoin="round"/><polygon points="434.25,771.14 437.88,768.72 437.88,773.12" fill="none" stroke="#4c92d2" stroke-width="0.75" stroke-linejoin="round"/><polygon points="436.87,769.48 440.5,767.06 440.5,771.46" fill="none" stroke="#4c92d2" stroke-width="0.75" stroke-linejoin="round"/><polygon points="439.56,767.79 443.19,765.37 443.19,769.77" fill="none" stroke="#4c92d2" stroke-width="0.75" stroke-linejoin="round"/><polygon points="442.32,766.06 445.95,763.64 445.95,768.04" fill="none" stroke="#4c92d2" stroke-width="0.75" stroke-linejoin="round"/><polygon points="445.14,764.31 448.77,761.89 448.77,766.29" fill="none" stroke="#4c92d2" stroke-width="0.75" stroke-linejoin="round"/><polygon points="448.03,762.53 451.66,760.11 451.66,764.51" fill="none" stroke="#4c92d2" stroke-width="0.75" stroke-linejoin="round"/><polygon points="450.98,760.73 454.61,758.31 454.61,762.71" fill="none" stroke="#4c92d2" stroke-width="0.75" stroke-linejoin="round"/><polygon points="454,758.93 457.63,756.51 457.63,760.91" fill="none" stroke="#4c92d2" stroke-width="0.75" stroke-linejoin="round"/><polygon points="457.08,757.11 460.71,754.69 460.71,759.09" fill="none" stroke="#4c92d2" stroke-width="0.75" stroke-linejoin="round"/><polygon points="460.24,755.27 463.87,752.85 463.87,757.25" fill="none" stroke="#4c92d2" stroke-width="0.75" stroke-linejoin="round"/><polygon points="463.46,753.42 467.09,751 467.09,755.4" fill="none" stroke="#4c92d2" stroke-width="0.75" stroke-linejoin="round"/><polygon points="466.74,751.55 470.37,749.13 470.37,753.53" fill="none" stroke="#4c92d2" stroke-width="0.75" stroke-linejoin="round"/><polygon points="470.09,749.66 473.72,747.24 473.72,751.64" fill="none" stroke="#4c92d2" stroke-width="0.75" stroke-linejoin="round"/><polygon points="473.51,747.74 477.14,745.32 477.14,749.72" fill="none" stroke="#4c92d2" stroke-width="0.75" stroke-linejoin="round"/><polygon points="477,745.79 480.63,743.37 480.63,747.77" fill="none" stroke="#4c92d2" stroke-width="0.75" stroke-linejoin="round"/><polygon points="480.55,743.82 484.18,741.4 484.18,745.8" fill="none" stroke="#4c92d2" stroke-width="0.75" stroke-linejoin="round"/><polygon points="484.16,741.84 487.79,739.42 487.79,743.82" fill="none" stroke="#4c92d2" stroke-width="0.75" stroke-linejoin="round"/><polygon points="487.85,739.84 491.48,737.42 491.48,741.82" fill="none" stroke="#4c92d2" stroke-width="0.75" stroke-linejoin="round"/><polygon points="491.6,737.8 495.23,735.38 495.23,739.78" fill="none" stroke="#4c92d2" stroke-width="0.75" stroke-linejoin="round"/><polygon points="495.41,735.72 499.04,733.3 499.04,737.7" fill="none" stroke="#4c92d2" stroke-width="0.75" stroke-linejoin="round"/><polygon points="499.3,733.59 502.93,731.17 502.93,735.57" fill="none" stroke="#4c92d2" stroke-width="0.75" stroke-linejoin="round"/></g>
<rect x="386.6" y="717.4" width="115" height="91.6" fill="none" stroke="#3a3a3a" stroke-width="0.9" />
<line x1="386.6" y1="809" x2="386.6" y2="812" stroke="#222" stroke-width="0.9" />
<text x="386.6" y="819.8" font-size="10" text-anchor="middle" fill="#111" >0</text>
<line x1="409.6" y1="809" x2="409.6" y2="812" stroke="#222" stroke-width="0.9" />
<text x="409.6" y="819.8" font-size="10" text-anchor="middle" fill="#111" >20</text>
<line x1="432.6" y1="809" x2="432.6" y2="812" stroke="#222" stroke-width="0.9" />
<text x="432.6" y="819.8" font-size="10" text-anchor="middle" fill="#111" >40</text>
<line x1="455.6" y1="809" x2="455.6" y2="812" stroke="#222" stroke-width="0.9" />
<text x="455.6" y="819.8" font-size="10" text-anchor="middle" fill="#111" >60</text>
<line x1="478.6" y1="809" x2="478.6" y2="812" stroke="#222" stroke-width="0.9" />
<text x="478.6" y="819.8" font-size="10" text-anchor="middle" fill="#111" >80</text>
<line x1="501.6" y1="809" x2="501.6" y2="812" stroke="#222" stroke-width="0.9" />
<text x="501.6" y="819.8" font-size="10" text-anchor="middle" fill="#111" >100</text>
<line x1="398.1" y1="809" x2="398.1" y2="810.8" stroke="#222" stroke-width="0.9" />
<line x1="421.1" y1="809" x2="421.1" y2="810.8" stroke="#222" stroke-width="0.9" />
<line x1="444.1" y1="809" x2="444.1" y2="810.8" stroke="#222" stroke-width="0.9" />
<line x1="467.1" y1="809" x2="467.1" y2="810.8" stroke="#222" stroke-width="0.9" />
<line x1="490.1" y1="809" x2="490.1" y2="810.8" stroke="#222" stroke-width="0.9" />
<line x1="386.6" y1="809" x2="383.6" y2="809" stroke="#222" stroke-width="0.9" />
<text x="383.4" y="812.5" font-size="10" text-anchor="end" fill="#111" >0</text>
<line x1="386.6" y1="786.1" x2="383.6" y2="786.1" stroke="#222" stroke-width="0.9" />
<text x="383.4" y="789.6" font-size="10" text-anchor="end" fill="#111" >40</text>
<line x1="386.6" y1="763.2" x2="383.6" y2="763.2" stroke="#222" stroke-width="0.9" />
<text x="383.4" y="766.7" font-size="10" text-anchor="end" fill="#111" >80</text>
<line x1="386.6" y1="740.3" x2="383.6" y2="740.3" stroke="#222" stroke-width="0.9" />
<text x="383.4" y="743.8" font-size="10" text-anchor="end" fill="#111" >120</text>
<line x1="386.6" y1="717.4" x2="383.6" y2="717.4" stroke="#222" stroke-width="0.9" />
<text x="383.4" y="720.9" font-size="10" text-anchor="end" fill="#111" >160</text>
<line x1="386.6" y1="797.55" x2="384.8" y2="797.55" stroke="#222" stroke-width="0.9" />
<line x1="386.6" y1="774.65" x2="384.8" y2="774.65" stroke="#222" stroke-width="0.9" />
<line x1="386.6" y1="751.75" x2="384.8" y2="751.75" stroke="#222" stroke-width="0.9" />
<line x1="386.6" y1="728.85" x2="384.8" y2="728.85" stroke="#222" stroke-width="0.9" />
<line x1="386.8" y1="808.6" x2="420.4" y2="755" stroke="#111" stroke-width="1.1" stroke-dasharray="5.5 3"/>
<polygon points="407.4,781.2 418.6,781.2 418.6,762.6" fill="none" stroke="#111" stroke-width="1.4" />
<polygon points="447.4,767 465.6,767 465.6,756.8" fill="none" stroke="#111" stroke-width="1.4" />
<text x="413.8" y="737.8" font-size="9.1" text-anchor="middle" fill="#222" >Initial</text>
<text x="413.8" y="749.2" font-size="9.1" text-anchor="middle" fill="#222" >slope</text>
<text x="468" y="765.6" font-size="10" text-anchor="start" fill="#222" ><tspan dy="0" font-size="10" font-style="italic">G</tspan><tspan dy="2.2" font-size="7" font-style="italic">p</tspan></text>
</g>
</svg></body></html>
